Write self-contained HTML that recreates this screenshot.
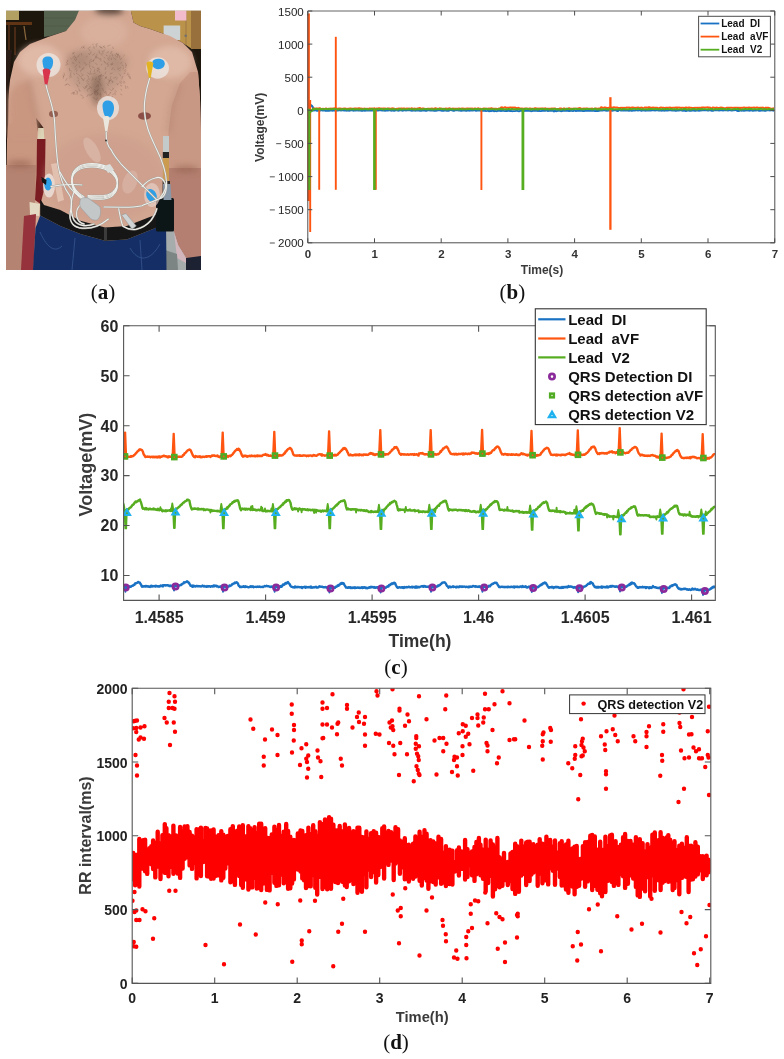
<!DOCTYPE html>
<html><head><meta charset="utf-8"><style>
html,body{margin:0;padding:0;background:#fff;}
body{width:784px;height:1059px;overflow:hidden;}
svg{display:block;will-change:transform;}
</style></head><body>
<svg width="784" height="1059" viewBox="0 0 784 1059">
<clipPath id="pclip"><rect x="6" y="10.5" width="195" height="259.5"/></clipPath>
<filter id="pblur" x="0" y="0" width="1" height="1"><feGaussianBlur stdDeviation="0.5"/></filter>
<filter id="sblur" x="-0.2" y="-0.2" width="1.4" height="1.4"><feGaussianBlur stdDeviation="3"/></filter>
<g clip-path="url(#pclip)"><g filter="url(#pblur)"><rect x="6" y="10.5" width="195" height="259.5" fill="#1f1610"/>
<rect x="6" y="10.5" width="13" height="9.5" fill="#b2a063"/>
<path d="M6 22 H32 V25 H6Z" fill="#5e3419"/>
<path d="M9 25 V60 M15 27 V55" stroke="#4a2a16" stroke-width="2"/>
<path d="M24 26 l2 14" stroke="#8a6a3a" stroke-width="1.2"/>
<path d="M44 10.5 H80 L76 22 L66 31 L50 36 L44 37Z" fill="#56634f"/>
<path d="M44 18 H78 M44 26 H72" stroke="#4a5644" stroke-width="0.6"/>
<path d="M122 10.5 H201 V49 H192 L183 43 L170 36 L150 29 L140 26 L133.5 22.4 L130.8 10.5Z" fill="#bb9248"/>
<path d="M191 10.5 H201 V49 H191Z" fill="#98703a"/>
<path d="M186 10.5 V45" stroke="#9a7844" stroke-width="1"/>
<rect x="175" y="10.5" width="11.4" height="10" fill="#f2bccd"/>
<rect x="163.6" y="25.5" width="16.6" height="14.5" fill="#cdd3d4"/>
<circle cx="185.7" cy="35.8" r="1.3" fill="#707070"/>
<path d="M79 10.5 L75 20 L66 31 L48 37 L30 44 L20 52 L14 62 L10 80 L8 100 L7 140 L6 270 L201 270 L201 139 L200 98.7 L198 72 L192 52 L183 43 L170 36 L150 29 L140 26 L133.5 22.4 L130.8 10.5Z" fill="#d3a792"/>
<path d="M6 50 L12 50 L9 80 L8.5 100 L8 138 L6 140Z" fill="#2a1c14"/>
<path d="M8 125 C16 121 28 120 37.5 123 L37 145 L36.5 175 L35 200 L33.5 215 L30 240 L24 270 L6 270 L7 140Z" fill="#c99680"/>
<path d="M6 165 L36 165 L35 200 L33.5 215 L30 240 L24 270 L6 270Z" fill="#b58371"/>
<path d="M198 72 L200 98.7 L201 139 L201 258 L186 258 L178 245 L172 225 L169 200 L168.4 132.7 L171.7 106 L179.6 83.8 L190 72Z" fill="#c99884"/>
<path d="M169 168 L201 168 L201 258 L186 258 L178 245 L172 225 L169 200Z" fill="#b47f6f"/>
<path d="M36 118 L40 123 L43.6 128 L38 132Z" fill="#3a2018"/>
<path d="M38 128 L43.6 128 L44.5 142 L37.5 142Z" fill="#ddd6b8"/>
<path d="M37 139 L45.5 139 L45 175 L43.5 192 L40.5 204 L35 200 L36.5 175Z" fill="#7a1c22"/>
<path d="M29.5 202 L40 204 L39 216 L30 215Z" fill="#e4d9c2"/>
<path d="M24 216 L36 214 L33.5 270 L21 270Z" fill="#96323a"/>
<path d="M163 136 H169 V152 H163Z" fill="#c4caca"/>
<path d="M162.8 152 H169 V158 H162.8Z" fill="#222"/>
<path d="M162.8 158 H169 V181 H162.8Z" fill="#cc9c50"/>
<path d="M162.5 181 H170 V200 H162.5Z" fill="#2a2420"/>
<path d="M165 225 L172 225 L178 245 L186 258 L190 270 L165 270Z" fill="#a6abab"/>
<path d="M174 232 L178 245 L186 258 L186 263 L177 258Z" fill="#d2b6be"/>
<path d="M165 250 L177 254 L178 270 L165 270Z" fill="#7c8484"/>
<path d="M186 258 L201 256 L201 270 L186 270Z" fill="#1a2030"/></g><g filter="url(#sblur)"><path d="M9 95 C14 84 22 80 29 82 L33 100 L37.5 123 L37 135 L8 135Z" fill="#c99680"/>
<ellipse cx="109" cy="10.5" rx="14" ry="5" fill="#4e3a30" opacity="0.9"/>
<ellipse cx="40" cy="60" rx="22" ry="16" fill="#e6c2b0" opacity="0.7"/>
<ellipse cx="170" cy="62" rx="22" ry="16" fill="#e4c0ae" opacity="0.7"/>
<ellipse cx="104" cy="32" rx="24" ry="16" fill="#dcb4a0" opacity="0.7"/>
<ellipse cx="96" cy="70" rx="28" ry="24" fill="#a08474" opacity="0.38"/>
<ellipse cx="97" cy="90" rx="6" ry="16" fill="#6a4e40" opacity="0.5"/>
<ellipse cx="78" cy="60" rx="12" ry="9" fill="#8a6a5c" opacity="0.3"/>
<ellipse cx="118" cy="62" rx="10" ry="8" fill="#8a6a5c" opacity="0.25"/>
<ellipse cx="104" cy="178" rx="60" ry="44" fill="#c9998a" opacity="0.45"/>
<ellipse cx="20" cy="164" rx="13" ry="3" fill="#8e5c4a" opacity="0.7"/>
<ellipse cx="186" cy="169" rx="13" ry="3" fill="#8e5c4a" opacity="0.6"/>
<path d="M29 80 L33 100 L38 123" stroke="#9a6a58" stroke-width="2" fill="none" opacity="0.6"/>
<path d="M179.6 83.8 L171.7 106 L168.4 132.7" stroke="#9a6a58" stroke-width="2" fill="none" opacity="0.6"/></g><g filter="url(#pblur)"><ellipse cx="53.5" cy="114" rx="4.5" ry="3.2" fill="#8a5444" opacity="0.85"/>
<ellipse cx="144.5" cy="116" rx="6.5" ry="3.8" fill="#7e4038" opacity="0.85"/>
<path d="M93.7 78.9l-2.1 1.3M97.5 80.8l1.7 1.8M106.1 94.3l1.7 1.2M110.5 44.8l-3.1 1.4M107.8 82.6l1.1 1.0M99.0 45.9l1.3 1.5M64.1 72.6l0.5 3.2M98.3 84.3l0.0 2.8M94.0 60.4l-3.2 1.3M120.8 88.7l0.8 1.8M82.2 46.6l-1.4 1.8M121.3 67.5l-2.8 1.5M125.7 73.0l-2.1 0.9M67.1 83.5l-1.3 1.6M68.1 64.0l-2.7 1.3M70.3 58.3l1.3 0.9M117.8 53.7l-0.3 2.4M75.3 90.3l2.2 1.8M70.2 69.8l1.3 1.6M76.7 68.0l-2.1 1.8M76.9 59.0l-1.3 1.7M82.7 46.8l2.2 1.5M79.0 81.7l0.7 2.3M129.1 73.9l-0.6 3.2M74.8 52.2l-2.6 1.7M79.5 54.5l-1.8 2.8M123.8 81.8l0.3 1.7M78.7 88.5l1.7 2.6M103.8 61.4l2.1 2.1M101.2 98.3l-0.6 2.0M93.2 46.0l1.6 1.6M102.1 50.7l1.1 3.1M110.4 80.6l1.2 1.0M95.8 90.2l1.5 3.2M67.3 78.0l-1.8 2.8M113.6 88.4l-2.2 2.5M86.6 87.2l-2.7 1.9M91.2 94.2l-2.0 1.7M105.7 67.2l-0.5 2.7M67.6 84.2l-3.0 1.2M113.0 67.6l-1.4 2.3M92.8 97.3l2.5 1.6M95.7 57.2l-1.1 2.2M83.1 86.8l1.2 1.4M125.4 85.6l0.5 3.3M84.9 85.9l1.6 1.8M123.6 67.4l-0.4 2.1M71.5 74.8l-2.3 2.2M81.4 53.2l0.2 2.0M77.0 69.3l-0.7 2.4M84.1 97.4l-2.2 1.0M111.6 79.7l1.4 2.8M93.8 43.6l-1.4 1.4M106.0 71.5l-0.9 2.7M109.9 55.2l0.1 1.9M112.0 53.8l1.1 1.9M110.8 76.3l-0.8 2.9M89.5 94.3l-1.4 0.9M71.1 71.9l-1.0 3.2M88.4 79.5l-2.4 1.9M128.1 72.6l-0.7 1.8M112.5 96.0l-1.0 2.8M99.6 94.2l1.4 3.0M121.9 65.0l2.0 1.3M100.5 92.7l0.0 1.6M118.0 53.4l1.2 2.8M98.2 89.8l-2.1 2.0M128.2 74.5l-1.5 0.8M77.5 76.8l1.4 2.6M106.7 76.5l-1.9 1.8M83.8 67.2l-2.4 2.2M129.8 76.6l-0.3 1.9M99.5 75.2l-0.4 1.5M129.9 76.1l0.7 3.0M101.4 74.4l-0.7 1.5M99.7 69.3l-3.0 1.5M80.8 73.2l1.8 1.5M95.4 62.9l1.8 2.0M75.6 57.0l-0.9 1.9M86.9 82.9l2.4 1.7M70.6 75.7l1.1 1.6M99.1 70.8l0.7 2.2M99.1 52.5l1.8 2.1M106.7 77.0l-2.0 1.8M122.0 57.4l-1.7 2.6M125.2 62.8l1.4 3.0M78.8 90.0l0.9 1.4M120.3 69.8l-1.1 1.3M90.2 87.2l1.7 0.8M97.4 92.0l-0.0 2.9M100.6 76.0l-0.3 1.8M74.9 55.5l-2.5 2.4M94.3 92.5l1.0 2.2M98.1 70.4l-0.4 1.5M111.1 97.7l1.7 1.7M113.8 68.7l1.2 1.4M97.9 43.0l-2.5 1.8M111.3 98.8l-0.7 2.2M104.0 75.3l-2.8 1.2M114.1 93.3l-1.6 1.7M110.6 92.6l-1.4 1.9M112.6 46.7l0.9 2.3M106.7 83.2l2.0 2.7M108.6 64.3l-1.0 2.4M99.3 67.7l-2.6 1.0M111.1 92.3l-1.4 0.6M105.1 90.8l1.3 1.9M88.3 48.5l1.9 2.7M100.5 75.5l-2.4 1.1M103.8 92.1l3.0 1.5M73.2 73.1l1.8 1.7M104.8 45.9l-2.1 1.1M98.9 81.5l0.7 2.0M107.9 79.0l1.5 2.5M73.0 91.8l0.9 3.2M92.1 73.5l-1.8 0.8M112.6 72.9l-2.9 1.3M104.3 49.6l-0.7 2.3M99.0 50.2l0.4 2.8M93.9 59.3l-0.5 2.3M116.5 77.0l-3.2 1.3M113.4 57.7l2.6 2.0M116.9 83.2l0.7 1.9M110.0 79.3l-0.6 2.7M114.7 54.5l2.0 2.8M81.0 70.1l-0.5 1.6M99.9 46.8l2.4 1.6M100.5 83.7l0.7 2.3M76.7 64.7l-1.8 2.6M118.6 83.2l-1.2 1.5M91.7 59.0l-1.5 1.6M84.8 78.2l-1.9 2.8M91.9 66.4l2.7 1.8M101.5 74.0l-0.9 1.9M76.9 85.7l1.8 1.1M112.7 87.8l0.9 1.5M87.0 89.9l0.5 1.6M111.6 79.6l-2.9 1.8M125.9 70.9l-1.4 1.6M84.2 68.4l-2.8 1.7M79.4 65.9l0.7 2.1M89.7 67.6l1.8 2.0M117.8 77.7l-1.9 1.8M74.4 92.1l-1.6 1.3M63.6 76.0l-0.3 2.6M100.3 94.0l1.4 0.9M67.9 83.9l2.3 2.0M107.4 58.2l1.9 2.4M98.5 92.5l0.5 2.1M96.6 77.5l-1.5 2.5M126.0 69.1l-2.0 2.0M98.7 88.9l-1.6 1.8M91.4 51.6l-1.9 2.9M88.3 53.1l1.5 1.8M66.1 62.4l2.2 1.7M116.3 53.8l2.1 1.2M74.9 56.3l1.7 2.4M103.6 56.8l1.4 1.5M74.1 92.0l1.1 2.3M119.2 73.6l1.8 2.7M126.0 64.6l-0.4 3.4M95.8 56.6l3.0 1.6M118.1 67.4l-0.2 2.5M108.0 57.7l2.3 0.9M88.0 94.6l-1.3 2.4M73.0 52.4l0.8 1.8M122.8 76.1l-1.1 3.3M80.7 77.3l2.3 2.0M67.8 59.8l-0.8 1.5M95.6 72.9l-2.4 1.2M122.0 62.0l-1.5 1.8M119.8 55.8l-0.3 2.5M83.8 62.5l1.8 1.1M94.7 89.2l1.0 2.7M69.4 68.0l0.3 3.4M120.1 85.2l2.1 0.9M111.7 57.7l-0.4 2.4M118.0 55.6l-0.6 2.0M88.3 77.6l1.0 1.9M89.5 86.0l1.0 1.6M113.2 63.7l-2.3 1.3M112.7 63.9l-1.2 1.2M109.4 88.7l1.6 1.7M120.6 81.1l1.6 1.1M90.5 46.8l-2.0 1.3M97.8 84.7l-1.9 2.5M89.0 63.9l0.3 1.5M90.0 88.2l-2.8 1.2M108.2 82.2l2.0 0.9M86.0 84.9l1.8 1.3M97.7 94.0l-1.9 1.9M73.1 92.6l-2.1 1.5M86.7 75.0l2.2 1.9M112.1 97.1l2.3 2.5M105.9 55.1l1.7 1.1M102.4 88.0l1.3 3.1M87.3 72.6l2.7 2.1M100.0 79.0l-0.3 2.0M119.2 81.7l2.5 1.9M78.9 79.9l-1.3 1.3M100.3 47.0l1.7 0.8M108.1 62.3l-1.2 2.7M88.7 81.1l-1.0 1.1M76.0 72.9l1.7 1.5M101.9 53.5l-0.1 2.0M101.8 63.9l-0.5 1.5M109.0 51.6l-2.4 1.2M94.9 69.2l-0.8 2.8M115.1 91.6l0.1 3.5M90.6 70.6l-0.5 3.3M98.8 76.7l0.5 3.3M84.4 45.6l-1.7 2.8M113.2 81.4l-1.2 1.7M103.5 46.6l1.9 1.5M97.2 68.2l2.5 1.4M98.8 57.8l1.0 2.0M108.6 99.2l0.6 3.1M77.5 91.3l-0.5 3.3M70.7 77.5l-1.3 0.7M79.1 61.8l0.7 1.5M89.8 65.5l-0.3 1.6M83.5 74.9l-3.0 1.7M95.1 55.6l1.6 2.9M124.8 54.9l-1.6 1.5M95.1 53.3l-2.8 2.1M76.1 83.7l2.2 2.4M112.8 62.7l-2.7 1.9M111.9 50.9l-1.5 3.0M93.2 47.2l1.3 1.7M111.7 55.0l1.4 1.4M108.5 94.2l0.9 2.7M123.9 80.9l1.3 1.7M126.9 86.0l1.4 2.4M92.8 76.9l-0.1 1.6M104.0 60.8l1.8 2.6M68.1 60.8l-1.1 1.6M81.5 78.2l2.3 2.4M94.3 91.5l0.9 3.2M97.0 53.9l-0.4 2.8M87.2 85.4l-1.6 2.0M97.4 97.8l-1.1 2.3M116.6 52.9l-0.5 1.9M92.8 93.0l-2.0 2.4M78.5 74.3l1.7 2.1M96.9 44.3l-0.7 2.9M102.1 99.6l1.3 1.3M63.2 74.7l0.4 2.4M80.4 94.7l2.8 1.7M101.8 77.9l-1.3 1.5M72.2 62.5l1.9 1.0M105.5 76.7l1.4 2.3M74.0 58.8l2.1 2.0M120.2 93.9l2.0 1.1M87.5 56.3l-1.4 0.7M96.3 92.2l-1.6 0.7M93.9 91.2l1.8 0.9M89.5 61.7l0.3 1.6M115.4 90.4l1.2 1.6M100.6 58.0l0.3 3.4M87.5 64.2l-2.5 1.1" stroke="#5a4034" stroke-width="0.6" opacity="0.35" fill="none"/>
<path d="M33 270 L35.5 228 L40.2 215.4 L60.3 226 L80.4 234 L105 240.8 L126.8 239.5 L153.6 228.7 L166 222 L166.5 270Z" fill="#132f66"/>
<path d="M40 232 C48 250 56 252 62 246 M130 248 C138 262 150 262 160 244 M75 238 L72 270 M140 240 L142 270" fill="none" stroke="#4a64a0" stroke-width="0.7" opacity="0.8"/>
<path d="M40.2 199 L44 205 L60.3 210 L80.4 220.7 L105 227.4 L126.8 226 L153.6 215.4 L160 212 L160 226 L153.6 228.7 L126.8 239.5 L105 240.8 L80.4 234 L60.3 226 L40.2 215.4Z" fill="#151515"/>
<rect x="104" y="228" width="3" height="12" fill="#3a3a3a"/>
<rect x="156" y="198" width="18" height="33.5" rx="1.5" fill="#101316"/>
<path d="M51 164 L57 163 L64 200 L58 202Z" fill="#e6c8b8" opacity="0.8"/>
<ellipse cx="92" cy="150" rx="6" ry="14" transform="rotate(-30 92 150)" fill="#e2c4b6" opacity="0.5"/>
<ellipse cx="152" cy="195" rx="8" ry="12" fill="#e6cfc6" opacity="0.7"/>
<ellipse cx="130" cy="182" rx="7" ry="12" transform="rotate(20 130 182)" fill="#e0c6bc" opacity="0.4"/>
<ellipse cx="48.5" cy="65" rx="12" ry="12" fill="#ece6e2" opacity="0.8"/>
<ellipse cx="157.6" cy="68" rx="11.4" ry="10.7" fill="#ece6e2" opacity="0.8"/>
<ellipse cx="108" cy="108" rx="11" ry="12" fill="#ece6e2" opacity="0.8"/>
<ellipse cx="49" cy="185.5" rx="6" ry="12" fill="#ece0da" opacity="0.85"/>
<path d="M42.5 62 C42 57 46 56 49 56.5 C53 57 54 61 52.5 66 C51 70 48 72 46 71 C43.5 69 43 66 42.5 62Z" fill="#2e9fe6"/>
<path d="M152.5 61.5 C154 58 160 58 163 60 C166 62.5 165 67 161.5 68.5 C158 70 154 69 152.5 66Z" fill="#2e9fe6"/>
<path d="M102.5 106 C102.5 101 106 100 108.5 100.5 C112 101 114.5 104 114 109 C113.5 114 111 118 108 118.5 C105 118 103 113 102.5 106Z" fill="#2e9fe6"/>
<ellipse cx="48" cy="184" rx="3.8" ry="6.5" fill="#2e9fe6"/>
<ellipse cx="151.5" cy="195.5" rx="5" ry="6.8" transform="rotate(-25 151.5 195.5)" fill="#2e9fe6"/>
<path d="M42.6 70 C45 68 49 68 50.5 71 L47.2 85.5 L45 85.5Z" fill="#d8344e"/>
<path d="M146.5 63 C148 61 152 61 153.3 63.5 L150.6 78.5 L148.8 78.5Z" fill="#e2b424"/>
<path d="M103 117.5 C105 115.5 108.5 115.5 109.8 117.5 L107.2 132 L105.4 132Z" fill="#ebe7df"/>
<path d="M41.5 177 L46.5 180 L46 185 L42 182Z" fill="#121212"/>
<path d="M163 184 L170.5 184 L171.5 200 L163.5 200Z" fill="#8898a8"/>
<g fill="none" stroke-linecap="round">
<path d="M46 85 C48 95 53 105 54.5 120 C55.5 140 56 150 58 165 C60 178 64 188 70 196 C72 200 72 206 70.3 212 C69 220 72 226 79 227.7 C86 229 92 228 97 226 C102 224 106 221 108.4 219" stroke="#a2a09a" stroke-width="1.9"/>
<path d="M149.6 78.5 C146 90 144 100 144.3 110 C145 125 150 135 156 148 C162 160 166 170 166.5 182 C167 192 164 198 159.7 198.4 C152 202 146 204 142 205.7 C134 207 128 207.5 123 207.2 C116 207 110 207 104 207" stroke="#a2a09a" stroke-width="1.9"/>
<path d="M106.2 132 C106 138 107 146 111.3 150 C114 156 118 160 121.6 164.7 C127 170 132 175 136.3 179.3 C141 184 144 187 148 191 C151 194 154 197 156.8 199.9" stroke="#a2a09a" stroke-width="1.9"/>
<path d="M51 186.5 C58 185 66 184.5 72 184.5 C76 184.5 79 184.5 82 185" stroke="#a2a09a" stroke-width="1.9"/>
<path d="M118.7 208.7 C120 216 121 222 123 226.3 C127 229 132 230 136.3 229.2 C142 228 147 225 151 220.4 C154 216 156 212 156.8 208.7" stroke="#a2a09a" stroke-width="1.9"/>
<path d="M142 186.7 C146 182 150 179 155.3 177.9 C158 177 161 177.5 162.7 179.3 C165 182 166 185 165.6 188 C164 193 162 196 159.7 198.4" stroke="#a2a09a" stroke-width="1.9"/>
<path d="M60 172 C64 180 68 186 74 192 C80 197 86 200 92 204" stroke="#a2a09a" stroke-width="1.9"/>
<path d="M84 200.0 C76 196.0 71 188.0 72 180.0 C73 172.0 80 167.0 92 167.0 C104 167.0 114 172.0 117 181.0 C119 190.0 114 198.0 104 199.0 C97 199.5 92 199.0 88 199.0" stroke="#a2a09a" stroke-width="1.9"/>
<path d="M84 198.8 C76 194.8 71 186.8 72 178.8 C73 170.8 80 165.8 92 165.8 C104 165.8 114 170.8 117 179.8 C119 188.8 114 196.8 104 197.8 C97 198.3 92 197.8 88 197.8" stroke="#a2a09a" stroke-width="1.9"/>
<path d="M84 197.7 C76 193.7 71 185.7 72 177.7 C73 169.7 80 164.7 92 164.7 C104 164.7 114 169.7 117 178.7 C119 187.7 114 195.7 104 196.7 C97 197.2 92 196.7 88 196.7" stroke="#a2a09a" stroke-width="1.9"/>
<path d="M84 196.6 C76 192.6 71 184.6 72 176.6 C73 168.6 80 163.6 92 163.6 C104 163.6 114 168.6 117 177.6 C119 186.6 114 194.6 104 195.6 C97 196.1 92 195.6 88 195.6" stroke="#a2a09a" stroke-width="1.9"/>
<path d="M75 190 C70 200 70 212 74 220 C78 226 86 227 94 224" stroke="#a2a09a" stroke-width="1.9"/>
<path d="M80 205 C74 212 76 222 84 224" stroke="#a2a09a" stroke-width="1.9"/>
<path d="M46 85 C48 95 53 105 54.5 120 C55.5 140 56 150 58 165 C60 178 64 188 70 196 C72 200 72 206 70.3 212 C69 220 72 226 79 227.7 C86 229 92 228 97 226 C102 224 106 221 108.4 219" stroke="#efefeb" stroke-width="1.05"/>
<path d="M149.6 78.5 C146 90 144 100 144.3 110 C145 125 150 135 156 148 C162 160 166 170 166.5 182 C167 192 164 198 159.7 198.4 C152 202 146 204 142 205.7 C134 207 128 207.5 123 207.2 C116 207 110 207 104 207" stroke="#efefeb" stroke-width="1.05"/>
<path d="M106.2 132 C106 138 107 146 111.3 150 C114 156 118 160 121.6 164.7 C127 170 132 175 136.3 179.3 C141 184 144 187 148 191 C151 194 154 197 156.8 199.9" stroke="#efefeb" stroke-width="1.05"/>
<path d="M51 186.5 C58 185 66 184.5 72 184.5 C76 184.5 79 184.5 82 185" stroke="#efefeb" stroke-width="1.05"/>
<path d="M118.7 208.7 C120 216 121 222 123 226.3 C127 229 132 230 136.3 229.2 C142 228 147 225 151 220.4 C154 216 156 212 156.8 208.7" stroke="#efefeb" stroke-width="1.05"/>
<path d="M142 186.7 C146 182 150 179 155.3 177.9 C158 177 161 177.5 162.7 179.3 C165 182 166 185 165.6 188 C164 193 162 196 159.7 198.4" stroke="#efefeb" stroke-width="1.05"/>
<path d="M60 172 C64 180 68 186 74 192 C80 197 86 200 92 204" stroke="#efefeb" stroke-width="1.05"/>
<path d="M84 200.0 C76 196.0 71 188.0 72 180.0 C73 172.0 80 167.0 92 167.0 C104 167.0 114 172.0 117 181.0 C119 190.0 114 198.0 104 199.0 C97 199.5 92 199.0 88 199.0" stroke="#efefeb" stroke-width="1.05"/>
<path d="M84 198.8 C76 194.8 71 186.8 72 178.8 C73 170.8 80 165.8 92 165.8 C104 165.8 114 170.8 117 179.8 C119 188.8 114 196.8 104 197.8 C97 198.3 92 197.8 88 197.8" stroke="#efefeb" stroke-width="1.05"/>
<path d="M84 197.7 C76 193.7 71 185.7 72 177.7 C73 169.7 80 164.7 92 164.7 C104 164.7 114 169.7 117 178.7 C119 187.7 114 195.7 104 196.7 C97 197.2 92 196.7 88 196.7" stroke="#efefeb" stroke-width="1.05"/>
<path d="M84 196.6 C76 192.6 71 184.6 72 176.6 C73 168.6 80 163.6 92 163.6 C104 163.6 114 168.6 117 177.6 C119 186.6 114 194.6 104 195.6 C97 196.1 92 195.6 88 195.6" stroke="#efefeb" stroke-width="1.05"/>
<path d="M75 190 C70 200 70 212 74 220 C78 226 86 227 94 224" stroke="#efefeb" stroke-width="1.05"/>
<path d="M80 205 C74 212 76 222 84 224" stroke="#efefeb" stroke-width="1.05"/>
</g>
<path d="M80 201 C80 198 84 197 88 198 L99 206 C101 208 101 212 100 216 L98 219.5 C96 221 92 220 90 218 L81 208 C79.5 206 79.5 203 80 201Z" fill="#c3c7c8" stroke="#9a9ea0" stroke-width="0.6"/>
<path d="M121.6 215 L126 213.5 L136.3 226 L132 229.2 Z" fill="#d0d3d4" stroke="#8a8e90" stroke-width="0.5"/>
<path d="M104 166 L110 164 L114 170 L108 173Z" fill="#dcdedc"/>
<circle cx="106" cy="140.4" r="1" fill="#3a3a3a"/></g></g>
<polyline points="312.0,110.7 313.0,110.6 314.0,110.5 315.0,110.4 316.0,110.3 317.0,110.8 318.0,110.7 319.0,110.3 320.0,110.7 321.0,110.3 322.0,110.2 323.0,110.8 324.0,110.2 325.0,110.8 326.0,110.5 327.0,110.7 328.0,110.6 329.0,110.8 330.0,110.6 331.0,110.6 332.0,110.6 333.0,110.7 334.0,110.4 335.0,110.7 336.0,110.8 337.0,110.5 338.0,110.6 339.0,110.4 340.0,110.4 341.0,110.6 342.0,110.4 343.0,110.3 344.0,110.5 345.0,110.5 346.0,110.6 347.0,110.7 348.0,110.1 349.0,110.8 350.0,110.5 351.0,110.3 352.0,110.4 353.0,110.6 354.0,110.7 355.0,110.4 356.0,110.5 357.0,110.1 358.0,110.5 359.0,110.5 360.0,110.4 361.0,110.7 362.0,110.9 363.0,110.7 364.0,110.3 365.0,110.8 366.0,110.4 367.0,110.5 368.0,110.4 369.0,110.6 370.0,110.6 371.0,110.5 372.0,110.5 373.0,110.5 374.0,110.4 375.0,110.7 376.0,110.4 377.0,110.5 378.0,110.5 379.0,110.3 380.0,110.4 381.0,110.2 382.0,110.6 383.0,110.6 384.0,110.4 385.0,110.8 386.0,110.3 387.0,110.6 388.0,110.6 389.0,110.4 390.0,110.4 391.0,110.7 392.0,110.5 393.0,110.6 394.0,110.8 395.0,110.5 396.0,110.1 397.0,110.3 398.0,110.7 399.0,110.5 400.0,110.3 401.0,110.1 402.0,110.6 403.0,110.8 404.0,110.2 405.0,110.0 406.0,110.6 407.0,110.4 408.0,110.4 409.0,110.4 410.0,110.3 411.0,110.6 412.0,110.7 413.0,110.6 414.0,110.4 415.0,110.7 416.0,110.5 417.0,110.6 418.0,110.3 419.0,110.6 420.0,110.7 421.0,110.8 422.0,110.5 423.0,110.6 424.0,110.4 425.0,110.7 426.0,110.7 427.0,110.7 428.0,110.4 429.0,110.2 430.0,110.5 431.0,110.5 432.0,110.3 433.0,110.6 434.0,110.7 435.0,110.6 436.0,110.7 437.0,110.6 438.0,110.3 439.0,110.4 440.0,110.4 441.0,110.6 442.0,110.7 443.0,110.5 444.0,110.7 445.0,110.3 446.0,110.5 447.0,110.8 448.0,110.6 449.0,110.7 450.0,110.1 451.0,110.1 452.0,110.3 453.0,110.7 454.0,110.9 455.0,110.4 456.0,110.3 457.0,110.3 458.0,110.3 459.0,110.6 460.0,110.4 461.0,110.9 462.0,110.7 463.0,110.4 464.0,110.6 465.0,110.5 466.0,110.7 467.0,110.7 468.0,110.4 469.0,110.7 470.0,110.6 471.0,110.5 472.0,110.6 473.0,110.6 474.0,110.4 475.0,110.4 476.0,110.8 477.0,110.5 478.0,110.4 479.0,110.6 480.0,110.2 481.0,110.9 482.0,110.6 483.0,110.8 484.0,110.5 485.0,110.7 486.0,111.1 487.0,110.9 488.0,110.6 489.0,111.3 490.0,110.8 491.0,111.2 492.0,110.8 493.0,110.6 494.0,111.3 495.0,110.8 496.0,111.1 497.0,111.2 498.0,110.6 499.0,110.9 500.0,110.8 501.0,111.0 502.0,110.9 503.0,110.6 504.0,110.9 505.0,111.1 506.0,110.8 507.0,111.0 508.0,110.8 509.0,110.9 510.0,111.0 511.0,110.9 512.0,111.2 513.0,111.1 514.0,111.1 515.0,111.1 516.0,110.9 517.0,110.7 518.0,111.1 519.0,111.3 520.0,110.9 521.0,110.8 522.0,110.9 523.0,111.2 524.0,111.0 525.0,110.7 526.0,110.9 527.0,110.7 528.0,110.9 529.0,110.7 530.0,110.7 531.0,111.2 532.0,111.1 533.0,110.6 534.0,110.7 535.0,110.8 536.0,110.8 537.0,110.6 538.0,111.1 539.0,110.6 540.0,111.1 541.0,111.1 542.0,110.8 543.0,110.8 544.0,110.9 545.0,110.9 546.0,110.5 547.0,110.6 548.0,111.0 549.0,110.9 550.0,110.8 551.0,110.7 552.0,110.8 553.0,110.7 554.0,111.5 555.0,110.6 556.0,111.2 557.0,111.0 558.0,110.9 559.0,110.9 560.0,110.8 561.0,111.2 562.0,111.0 563.0,110.9 564.0,110.9 565.0,110.9 566.0,110.7 567.0,110.8 568.0,110.8 569.0,111.0 570.0,111.0 571.0,110.5 572.0,110.9 573.0,111.1 574.0,110.6 575.0,110.6 576.0,111.1 577.0,110.9 578.0,110.8 579.0,110.6 580.0,110.9 581.0,110.8 582.0,110.9 583.0,111.0 584.0,111.1 585.0,110.8 586.0,110.8 587.0,110.9 588.0,110.9 589.0,110.9 590.0,110.8 591.0,110.9 592.0,110.8 593.0,110.8 594.0,110.9 595.0,111.1 596.0,110.8 597.0,111.0 598.0,111.0 599.0,110.9 600.0,110.6 601.0,110.4 602.0,110.6 603.0,110.6 604.0,109.8 605.0,110.6 606.0,110.6 607.0,110.9 608.0,110.3 609.0,110.5 610.0,110.6 611.0,110.3 612.0,110.8 613.0,110.6 614.0,110.3 615.0,110.2 616.0,110.4 617.0,111.0 618.0,111.0 619.0,110.0 620.0,110.1 621.0,110.6 622.0,110.5 623.0,110.4 624.0,110.6 625.0,110.5 626.0,110.6 627.0,110.6 628.0,110.3 629.0,110.8 630.0,110.4 631.0,110.7 632.0,110.7 633.0,110.5 634.0,110.5 635.0,110.5 636.0,110.1 637.0,110.4 638.0,110.6 639.0,110.2 640.0,110.2 641.0,110.7 642.0,110.7 643.0,110.2 644.0,110.6 645.0,110.5 646.0,110.7 647.0,110.4 648.0,110.5 649.0,110.3 650.0,110.5 651.0,110.5 652.0,110.4 653.0,110.4 654.0,110.3 655.0,110.6 656.0,110.3 657.0,110.2 658.0,110.3 659.0,110.7 660.0,110.4 661.0,110.6 662.0,110.7 663.0,110.4 664.0,110.7 665.0,110.6 666.0,110.5 667.0,110.3 668.0,110.5 669.0,110.2 670.0,110.4 671.0,110.4 672.0,110.6 673.0,110.6 674.0,110.4 675.0,110.7 676.0,110.8 677.0,110.5 678.0,110.3 679.0,110.6 680.0,110.0 681.0,110.4 682.0,110.6 683.0,110.9 684.0,110.3 685.0,110.8 686.0,111.0 687.0,110.9 688.0,110.0 689.0,110.7 690.0,110.5 691.0,110.7 692.0,110.5 693.0,110.4 694.0,110.5 695.0,110.8 696.0,110.7 697.0,110.4 698.0,110.6 699.0,110.7 700.0,110.6 701.0,110.5 702.0,110.4 703.0,110.3 704.0,110.4 705.0,110.4 706.0,110.2 707.0,110.2 708.0,110.7 709.0,110.3 710.0,110.2 711.0,110.5 712.0,110.8 713.0,110.8 714.0,110.4 715.0,110.3 716.0,110.4 717.0,110.3 718.0,110.4 719.0,110.6 720.0,110.3 721.0,110.3 722.0,110.4 723.0,110.5 724.0,110.3 725.0,110.3 726.0,110.3 727.0,110.3 728.0,110.6 729.0,110.4 730.0,109.8 731.0,110.6 732.0,110.5 733.0,110.3 734.0,110.4 735.0,109.8 736.0,110.1 737.0,110.8 738.0,111.0 739.0,111.0 740.0,110.3 741.0,110.5 742.0,110.7 743.0,110.2 744.0,110.9 745.0,110.3 746.0,110.6 747.0,110.2 748.0,110.6 749.0,110.5 750.0,110.7 751.0,110.2 752.0,110.5 753.0,110.9 754.0,110.2 755.0,110.6 756.0,110.6 757.0,110.4 758.0,110.4 759.0,110.8 760.0,110.8 761.0,110.6 762.0,110.6 763.0,110.3 764.0,110.5 765.0,110.9 766.0,110.7 767.0,110.2 768.0,110.0 769.0,110.4 770.0,110.5 771.0,110.4 772.0,110.4 773.0,110.6 774.0,110.7" fill="none" stroke="#1a72c4" stroke-width="1.9" stroke-linejoin="round"/>
<path d="M308.5 110 L310 104.5 L312 106 L314 109 L318 110" fill="none" stroke="#1a72c4" stroke-width="2.2"/>
<polyline points="312.0,108.6 313.0,108.9 314.0,108.3 315.0,108.7 316.0,108.7 317.0,108.3 318.0,108.9 319.0,108.2 320.0,108.3 321.0,109.2 322.0,108.9 323.0,108.7 324.0,108.9 325.0,108.9 326.0,108.4 327.0,108.7 328.0,108.9 329.0,108.6 330.0,108.6 331.0,108.5 332.0,108.8 333.0,108.5 334.0,108.5 335.0,108.3 336.0,108.4 337.0,108.6 338.0,108.7 339.0,108.5 340.0,108.4 341.0,108.7 342.0,108.7 343.0,108.9 344.0,108.5 345.0,108.5 346.0,108.7 347.0,108.9 348.0,108.6 349.0,108.6 350.0,108.4 351.0,108.5 352.0,108.8 353.0,108.8 354.0,108.8 355.0,108.2 356.0,108.8 357.0,108.4 358.0,108.7 359.0,108.1 360.0,108.6 361.0,108.4 362.0,108.9 363.0,108.6 364.0,108.9 365.0,108.5 366.0,109.0 367.0,108.5 368.0,109.0 369.0,108.5 370.0,108.4 371.0,108.8 372.0,108.5 373.0,108.6 374.0,108.3 375.0,108.5 376.0,108.6 377.0,108.4 378.0,108.7 379.0,108.1 380.0,108.8 381.0,108.5 382.0,108.9 383.0,108.5 384.0,108.5 385.0,108.5 386.0,108.7 387.0,108.7 388.0,108.5 389.0,108.4 390.0,108.7 391.0,108.8 392.0,108.2 393.0,108.4 394.0,108.5 395.0,109.0 396.0,108.9 397.0,108.8 398.0,108.7 399.0,108.4 400.0,108.9 401.0,108.5 402.0,108.4 403.0,109.0 404.0,108.3 405.0,108.9 406.0,108.6 407.0,108.4 408.0,108.6 409.0,108.4 410.0,108.6 411.0,108.5 412.0,108.3 413.0,109.2 414.0,108.5 415.0,108.8 416.0,108.6 417.0,108.8 418.0,108.3 419.0,108.4 420.0,107.9 421.0,108.8 422.0,108.7 423.0,108.3 424.0,108.8 425.0,108.7 426.0,109.3 427.0,108.7 428.0,108.8 429.0,108.7 430.0,108.8 431.0,108.6 432.0,108.5 433.0,108.8 434.0,108.9 435.0,108.3 436.0,108.3 437.0,108.6 438.0,109.0 439.0,108.6 440.0,108.2 441.0,108.8 442.0,108.8 443.0,109.0 444.0,108.6 445.0,109.0 446.0,108.4 447.0,108.8 448.0,108.6 449.0,108.3 450.0,108.5 451.0,108.9 452.0,108.8 453.0,108.5 454.0,108.8 455.0,108.8 456.0,108.8 457.0,108.7 458.0,108.7 459.0,108.4 460.0,108.6 461.0,108.6 462.0,108.4 463.0,108.5 464.0,108.6 465.0,108.6 466.0,108.8 467.0,108.4 468.0,108.5 469.0,108.7 470.0,108.5 471.0,108.7 472.0,108.5 473.0,108.9 474.0,108.6 475.0,108.3 476.0,108.8 477.0,109.0 478.0,108.2 479.0,108.6 480.0,108.6 481.0,108.8 482.0,108.9 483.0,108.6 484.0,108.3 485.0,108.7 486.0,108.8 487.0,108.7 488.0,108.6 489.0,108.4 490.0,109.1 491.0,108.3 492.0,108.3 493.0,108.8 494.0,108.7 495.0,108.8 496.0,108.7 497.0,109.0 498.0,108.9 499.0,108.5 500.0,108.8 501.0,107.4 502.0,107.3 503.0,108.0 504.0,107.6 505.0,107.2 506.0,107.7 507.0,107.6 508.0,107.8 509.0,107.7 510.0,107.5 511.0,107.5 512.0,107.9 513.0,107.5 514.0,107.7 515.0,107.5 516.0,107.8 517.0,108.1 518.0,107.8 519.0,107.9 520.0,108.7 521.0,108.4 522.0,108.5 523.0,108.6 524.0,108.7 525.0,108.5 526.0,108.7 527.0,108.4 528.0,108.6 529.0,108.6 530.0,108.3 531.0,108.8 532.0,108.6 533.0,108.6 534.0,108.6 535.0,108.1 536.0,108.3 537.0,108.4 538.0,108.8 539.0,108.5 540.0,108.7 541.0,108.4 542.0,108.4 543.0,108.5 544.0,108.8 545.0,108.2 546.0,108.6 547.0,108.7 548.0,108.6 549.0,108.6 550.0,108.8 551.0,108.7 552.0,108.4 553.0,108.7 554.0,108.4 555.0,108.5 556.0,108.9 557.0,109.1 558.0,108.9 559.0,108.7 560.0,108.4 561.0,108.4 562.0,109.0 563.0,108.7 564.0,108.3 565.0,109.0 566.0,108.7 567.0,108.9 568.0,108.7 569.0,108.1 570.0,108.4 571.0,108.6 572.0,108.6 573.0,108.9 574.0,108.5 575.0,108.6 576.0,108.6 577.0,108.6 578.0,108.4 579.0,108.3 580.0,108.0 581.0,108.7 582.0,108.6 583.0,108.6 584.0,108.4 585.0,108.6 586.0,108.4 587.0,108.4 588.0,108.7 589.0,108.7 590.0,108.7 591.0,108.6 592.0,108.5 593.0,108.9 594.0,108.9 595.0,108.5 596.0,108.4 597.0,108.7 598.0,108.7 599.0,108.4 600.0,109.1 601.0,107.2 602.0,107.5 603.0,107.8 604.0,107.9 605.0,107.3 606.0,107.6 607.0,108.0 608.0,108.0 609.0,107.6 610.0,107.7 611.0,107.5 612.0,107.8 613.0,107.5 614.0,107.3 615.0,107.4 616.0,107.7 617.0,107.4 618.0,107.9 619.0,108.0 620.0,107.9 621.0,107.8 622.0,108.0 623.0,107.8 624.0,107.9 625.0,107.8 626.0,107.9 627.0,107.5 628.0,107.6 629.0,107.5 630.0,107.9 631.0,107.8 632.0,107.5 633.0,107.5 634.0,107.6 635.0,107.9 636.0,107.7 637.0,107.6 638.0,107.5 639.0,107.7 640.0,108.1 641.0,107.5 642.0,107.6 643.0,108.1 644.0,107.9 645.0,107.4 646.0,107.9 647.0,107.4 648.0,107.8 649.0,107.1 650.0,107.5 651.0,107.9 652.0,107.6 653.0,107.5 654.0,107.7 655.0,107.7 656.0,107.6 657.0,107.6 658.0,108.1 659.0,108.0 660.0,107.8 661.0,107.4 662.0,107.6 663.0,107.6 664.0,107.8 665.0,108.1 666.0,107.6 667.0,107.7 668.0,107.6 669.0,107.7 670.0,107.5 671.0,107.8 672.0,108.0 673.0,107.6 674.0,107.6 675.0,107.7 676.0,107.4 677.0,108.1 678.0,107.4 679.0,107.6 680.0,107.5 681.0,108.0 682.0,107.6 683.0,107.6 684.0,108.1 685.0,107.7 686.0,107.5 687.0,107.7 688.0,107.7 689.0,107.5 690.0,107.7 691.0,107.7 692.0,107.9 693.0,107.9 694.0,107.9 695.0,107.7 696.0,107.9 697.0,107.7 698.0,108.0 699.0,107.8 700.0,107.6 701.0,108.0 702.0,107.4 703.0,107.5 704.0,107.5 705.0,107.7 706.0,107.4 707.0,107.4 708.0,107.3 709.0,107.7 710.0,107.5 711.0,108.2 712.0,107.9 713.0,107.4 714.0,108.0 715.0,107.7 716.0,107.9 717.0,107.5 718.0,108.0 719.0,107.9 720.0,107.6 721.0,107.5 722.0,107.6 723.0,107.8 724.0,108.2 725.0,108.1 726.0,108.0 727.0,107.7 728.0,107.6 729.0,107.8 730.0,107.6 731.0,107.6 732.0,107.7 733.0,107.9 734.0,107.7 735.0,107.8 736.0,107.6 737.0,107.7 738.0,107.6 739.0,108.0 740.0,107.8 741.0,108.0 742.0,107.7 743.0,107.9 744.0,107.4 745.0,107.6 746.0,107.7 747.0,107.6 748.0,107.7 749.0,107.5 750.0,107.7 751.0,107.6 752.0,107.7 753.0,107.6 754.0,107.5 755.0,107.6 756.0,107.7 757.0,107.4 758.0,107.7 759.0,108.0 760.0,107.7 761.0,107.8 762.0,107.8 763.0,107.5 764.0,108.0 765.0,108.3 766.0,107.5 767.0,108.2 768.0,107.5 769.0,108.0 770.0,108.2 771.0,108.9 772.0,108.6 773.0,108.3 774.0,108.4" fill="none" stroke="#ff5511" stroke-width="1.9" stroke-linejoin="round"/>
<line x1="308.6" y1="13.6" x2="308.6" y2="201" stroke="#ff5511" stroke-width="1.9"/>
<line x1="310.2" y1="100.0" x2="310.2" y2="232" stroke="#ff5511" stroke-width="1.9"/>
<line x1="319.2" y1="110.0" x2="319.2" y2="189.8" stroke="#ff5511" stroke-width="1.9"/>
<line x1="335.8" y1="36.8" x2="335.8" y2="189.8" stroke="#ff5511" stroke-width="1.9"/>
<line x1="375.8" y1="110.0" x2="375.8" y2="189.8" stroke="#ff5511" stroke-width="1.9"/>
<line x1="481.4" y1="110.0" x2="481.4" y2="190" stroke="#ff5511" stroke-width="1.9"/>
<line x1="610.4" y1="97.2" x2="610.4" y2="229.8" stroke="#ff5511" stroke-width="2.3"/>
<line x1="308.6" y1="13.6" x2="308.6" y2="201" stroke="#ff5511" stroke-width="2.2"/>
<polyline points="312.0,109.0 313.0,109.0 314.0,109.3 315.0,109.2 316.0,108.7 317.0,109.1 318.0,109.3 319.0,109.2 320.0,109.5 321.0,108.8 322.0,109.3 323.0,109.2 324.0,109.3 325.0,108.9 326.0,108.9 327.0,109.2 328.0,109.2 329.0,108.8 330.0,109.3 331.0,109.2 332.0,109.3 333.0,108.7 334.0,109.3 335.0,109.0 336.0,109.1 337.0,109.4 338.0,109.5 339.0,109.2 340.0,109.2 341.0,109.5 342.0,109.0 343.0,109.2 344.0,109.1 345.0,109.0 346.0,109.2 347.0,109.6 348.0,109.3 349.0,109.3 350.0,109.2 351.0,109.4 352.0,109.2 353.0,109.0 354.0,109.2 355.0,109.5 356.0,109.2 357.0,109.4 358.0,109.2 359.0,109.6 360.0,109.3 361.0,109.3 362.0,109.1 363.0,109.4 364.0,109.2 365.0,108.9 366.0,109.3 367.0,109.0 368.0,109.5 369.0,109.4 370.0,109.2 371.0,109.3 372.0,108.7 373.0,109.5 374.0,109.1 375.0,109.3 376.0,109.7 377.0,108.9 378.0,109.1 379.0,109.3 380.0,109.3 381.0,108.9 382.0,109.0 383.0,109.5 384.0,109.1 385.0,109.3 386.0,108.9 387.0,109.0 388.0,108.8 389.0,109.3 390.0,109.4 391.0,109.2 392.0,109.1 393.0,109.3 394.0,109.3 395.0,109.1 396.0,109.3 397.0,109.6 398.0,109.6 399.0,109.1 400.0,108.9 401.0,109.6 402.0,109.4 403.0,109.4 404.0,109.3 405.0,109.2 406.0,109.4 407.0,109.4 408.0,109.4 409.0,109.0 410.0,109.4 411.0,109.1 412.0,109.1 413.0,109.3 414.0,109.1 415.0,109.7 416.0,109.3 417.0,109.3 418.0,109.2 419.0,109.3 420.0,109.2 421.0,109.3 422.0,109.4 423.0,109.4 424.0,108.9 425.0,109.1 426.0,109.2 427.0,109.0 428.0,109.3 429.0,109.2 430.0,109.2 431.0,109.3 432.0,109.1 433.0,109.5 434.0,109.4 435.0,109.1 436.0,109.3 437.0,109.4 438.0,109.0 439.0,109.1 440.0,109.3 441.0,108.7 442.0,108.9 443.0,109.3 444.0,109.3 445.0,109.0 446.0,109.4 447.0,109.6 448.0,109.2 449.0,109.2 450.0,109.2 451.0,109.0 452.0,109.3 453.0,109.2 454.0,109.4 455.0,109.5 456.0,109.2 457.0,109.2 458.0,109.3 459.0,109.6 460.0,108.9 461.0,109.2 462.0,109.1 463.0,109.2 464.0,109.4 465.0,109.2 466.0,109.4 467.0,109.2 468.0,109.1 469.0,109.1 470.0,108.9 471.0,109.2 472.0,109.1 473.0,109.4 474.0,109.4 475.0,109.0 476.0,109.0 477.0,109.3 478.0,109.0 479.0,109.2 480.0,109.3 481.0,109.1 482.0,109.6 483.0,109.0 484.0,109.3 485.0,109.1 486.0,108.6 487.0,109.2 488.0,109.2 489.0,109.3 490.0,109.2 491.0,109.1 492.0,109.1 493.0,109.1 494.0,109.4 495.0,109.1 496.0,109.5 497.0,109.4 498.0,109.1 499.0,109.4 500.0,108.7 501.0,109.2 502.0,109.0 503.0,109.2 504.0,109.4 505.0,109.2 506.0,109.2 507.0,109.5 508.0,109.0 509.0,109.0 510.0,109.4 511.0,109.3 512.0,108.9 513.0,109.2 514.0,109.4 515.0,109.2 516.0,109.1 517.0,109.2 518.0,109.2 519.0,109.1 520.0,109.4 521.0,108.9 522.0,109.2 523.0,109.6 524.0,109.0 525.0,109.2 526.0,108.7 527.0,109.0 528.0,109.0 529.0,109.2 530.0,109.1 531.0,109.6 532.0,109.0 533.0,109.2 534.0,109.2 535.0,109.3 536.0,109.4 537.0,108.9 538.0,109.6 539.0,109.1 540.0,109.1 541.0,108.9 542.0,109.1 543.0,108.8 544.0,109.2 545.0,109.1 546.0,109.3 547.0,109.0 548.0,109.2 549.0,109.6 550.0,109.4 551.0,109.2 552.0,109.0 553.0,109.5 554.0,108.9 555.0,108.9 556.0,109.5 557.0,109.1 558.0,109.5 559.0,109.3 560.0,109.6 561.0,109.6 562.0,109.3 563.0,109.1 564.0,109.3 565.0,109.5 566.0,109.2 567.0,108.6 568.0,109.1 569.0,109.1 570.0,109.2 571.0,109.1 572.0,109.4 573.0,108.9 574.0,109.3 575.0,108.8 576.0,108.8 577.0,109.0 578.0,109.1 579.0,109.0 580.0,109.1 581.0,109.3 582.0,109.3 583.0,109.2 584.0,109.2 585.0,109.1 586.0,109.0 587.0,108.9 588.0,109.1 589.0,109.0 590.0,109.1 591.0,109.3 592.0,109.3 593.0,109.5 594.0,109.0 595.0,108.8 596.0,109.0 597.0,109.6 598.0,109.3 599.0,109.1 600.0,109.5 601.0,109.1 602.0,109.5 603.0,109.1 604.0,109.1 605.0,109.3 606.0,109.0 607.0,109.2 608.0,109.6 609.0,109.3 610.0,109.0 611.0,109.1 612.0,109.2 613.0,109.0 614.0,109.3 615.0,109.5 616.0,109.2 617.0,109.4 618.0,109.3 619.0,109.2 620.0,109.0 621.0,109.4 622.0,109.5 623.0,109.1 624.0,109.0 625.0,109.3 626.0,109.2 627.0,109.4 628.0,109.3 629.0,109.2 630.0,108.9 631.0,109.3 632.0,109.2 633.0,108.9 634.0,108.9 635.0,108.8 636.0,109.3 637.0,109.1 638.0,108.5 639.0,109.0 640.0,109.1 641.0,109.2 642.0,109.2 643.0,109.1 644.0,109.3 645.0,109.4 646.0,109.2 647.0,109.5 648.0,109.2 649.0,109.0 650.0,109.2 651.0,108.9 652.0,109.1 653.0,109.0 654.0,109.1 655.0,109.2 656.0,108.7 657.0,109.3 658.0,109.3 659.0,109.2 660.0,109.3 661.0,109.3 662.0,109.1 663.0,109.0 664.0,109.3 665.0,109.4 666.0,108.9 667.0,109.1 668.0,109.0 669.0,109.4 670.0,109.1 671.0,108.9 672.0,109.5 673.0,109.3 674.0,109.2 675.0,109.2 676.0,109.2 677.0,109.2 678.0,109.4 679.0,109.3 680.0,109.1 681.0,109.2 682.0,109.6 683.0,109.1 684.0,108.9 685.0,109.2 686.0,109.0 687.0,109.7 688.0,109.3 689.0,109.3 690.0,109.3 691.0,109.6 692.0,109.0 693.0,109.2 694.0,108.9 695.0,109.4 696.0,109.2 697.0,109.6 698.0,109.1 699.0,109.0 700.0,109.1 701.0,109.4 702.0,109.0 703.0,109.3 704.0,109.1 705.0,109.1 706.0,109.1 707.0,109.5 708.0,109.0 709.0,109.3 710.0,109.4 711.0,109.0 712.0,108.9 713.0,109.5 714.0,109.5 715.0,109.1 716.0,109.0 717.0,109.4 718.0,109.2 719.0,109.0 720.0,109.1 721.0,108.7 722.0,109.0 723.0,109.0 724.0,108.9 725.0,109.3 726.0,109.3 727.0,109.5 728.0,108.7 729.0,109.1 730.0,109.0 731.0,109.5 732.0,109.4 733.0,109.2 734.0,109.2 735.0,109.0 736.0,109.1 737.0,109.1 738.0,108.7 739.0,109.6 740.0,109.3 741.0,109.6 742.0,109.4 743.0,109.3 744.0,109.4 745.0,108.9 746.0,109.0 747.0,109.4 748.0,109.1 749.0,108.9 750.0,109.2 751.0,108.9 752.0,109.2 753.0,109.5 754.0,109.0 755.0,109.1 756.0,109.3 757.0,109.2 758.0,109.2 759.0,109.0 760.0,109.1 761.0,108.7 762.0,109.2 763.0,109.5 764.0,109.0 765.0,109.2 766.0,109.3 767.0,109.4 768.0,109.4 769.0,109.0 770.0,109.1 771.0,109.6 772.0,109.1 773.0,109.3 774.0,109.0" fill="none" stroke="#55ad1f" stroke-width="1.9" stroke-linejoin="round"/>
<path d="M308 109 L310 112 L313 109.5" fill="none" stroke="#55ad1f" stroke-width="2.5"/>
<line x1="309.3" y1="109" x2="309.3" y2="190" stroke="#55ad1f" stroke-width="2.4"/>
<line x1="374.4" y1="109" x2="374.4" y2="190" stroke="#55ad1f" stroke-width="2.6"/>
<line x1="522.9" y1="109" x2="522.9" y2="190" stroke="#55ad1f" stroke-width="2.8"/>
<path d="M307.8 11.0 H774.8 V242.8 H307.8 Z" fill="none" stroke="#4d4d4d" stroke-width="1"/>
<path d="M307.8 11.0 H774.8" fill="none" stroke="#bdbdbd" stroke-width="1"/>
<path d="M307.8 242.8 v-4.5 M307.8 11.0 v4.5 M374.5 242.8 v-4.5 M374.5 11.0 v4.5 M441.2 242.8 v-4.5 M441.2 11.0 v4.5 M507.9 242.8 v-4.5 M507.9 11.0 v4.5 M574.6 242.8 v-4.5 M574.6 11.0 v4.5 M641.3 242.8 v-4.5 M641.3 11.0 v4.5 M708.0 242.8 v-4.5 M708.0 11.0 v4.5 M774.7 242.8 v-4.5 M774.7 11.0 v4.5 M307.8 242.8 h4.5 M774.8 242.8 h-4.5 M307.8 209.7 h4.5 M774.8 209.7 h-4.5 M307.8 176.6 h4.5 M774.8 176.6 h-4.5 M307.8 143.4 h4.5 M774.8 143.4 h-4.5 M307.8 110.3 h4.5 M774.8 110.3 h-4.5 M307.8 77.2 h4.5 M774.8 77.2 h-4.5 M307.8 44.1 h4.5 M774.8 44.1 h-4.5 M307.8 11.0 h4.5 M774.8 11.0 h-4.5" stroke="#4d4d4d" stroke-width="1" fill="none"/>
<text x="303.8" y="247.3" text-anchor="end" style="font-family:'Liberation Sans',sans-serif;font-size:11.6px" fill="#262626">2000</text>
<line x1="269.8" y1="243.0" x2="274.8" y2="243.0" stroke="#707070" stroke-width="1.2"/>
<text x="303.8" y="214.2" text-anchor="end" style="font-family:'Liberation Sans',sans-serif;font-size:11.6px" fill="#262626">1500</text>
<line x1="269.8" y1="209.9" x2="274.8" y2="209.9" stroke="#707070" stroke-width="1.2"/>
<text x="303.8" y="181.1" text-anchor="end" style="font-family:'Liberation Sans',sans-serif;font-size:11.6px" fill="#262626">1000</text>
<line x1="269.8" y1="176.8" x2="274.8" y2="176.8" stroke="#707070" stroke-width="1.2"/>
<text x="303.8" y="147.9" text-anchor="end" style="font-family:'Liberation Sans',sans-serif;font-size:11.6px" fill="#262626">500</text>
<line x1="276.2" y1="143.6" x2="281.2" y2="143.6" stroke="#707070" stroke-width="1.2"/>
<text x="303.8" y="114.8" text-anchor="end" style="font-family:'Liberation Sans',sans-serif;font-size:11.6px" fill="#262626">0</text>
<text x="303.8" y="81.7" text-anchor="end" style="font-family:'Liberation Sans',sans-serif;font-size:11.6px" fill="#262626">500</text>
<text x="303.8" y="48.6" text-anchor="end" style="font-family:'Liberation Sans',sans-serif;font-size:11.6px" fill="#262626">1000</text>
<text x="303.8" y="15.5" text-anchor="end" style="font-family:'Liberation Sans',sans-serif;font-size:11.6px" fill="#262626">1500</text>
<text x="308.0" y="257.6" text-anchor="middle" style="font-family:'Liberation Sans',sans-serif;font-size:11.5px;font-weight:bold" fill="#333">0</text>
<text x="374.7" y="257.6" text-anchor="middle" style="font-family:'Liberation Sans',sans-serif;font-size:11.5px;font-weight:bold" fill="#333">1</text>
<text x="441.4" y="257.6" text-anchor="middle" style="font-family:'Liberation Sans',sans-serif;font-size:11.5px;font-weight:bold" fill="#333">2</text>
<text x="508.1" y="257.6" text-anchor="middle" style="font-family:'Liberation Sans',sans-serif;font-size:11.5px;font-weight:bold" fill="#333">3</text>
<text x="574.8" y="257.6" text-anchor="middle" style="font-family:'Liberation Sans',sans-serif;font-size:11.5px;font-weight:bold" fill="#333">4</text>
<text x="641.5" y="257.6" text-anchor="middle" style="font-family:'Liberation Sans',sans-serif;font-size:11.5px;font-weight:bold" fill="#333">5</text>
<text x="708.2" y="257.6" text-anchor="middle" style="font-family:'Liberation Sans',sans-serif;font-size:11.5px;font-weight:bold" fill="#333">6</text>
<text x="774.9" y="257.6" text-anchor="middle" style="font-family:'Liberation Sans',sans-serif;font-size:11.5px;font-weight:bold" fill="#333">7</text>
<text x="542" y="273.6" text-anchor="middle" style="font-family:'Liberation Sans',sans-serif;font-size:12px;font-weight:bold" fill="#3a3a3a">Time(s)</text>
<text transform="translate(264,127.4) rotate(-90)" text-anchor="middle" style="font-family:'Liberation Sans',sans-serif;font-size:12px;font-weight:bold" fill="#3a3a3a">Voltage(mV)</text>
<rect x="698.6" y="16.3" width="71.8" height="40.5" fill="#fff" stroke="#4d4d4d" stroke-width="1"/>
<line x1="700.6" y1="23.5" x2="719.3" y2="23.5" stroke="#1a72c4" stroke-width="1.8"/>
<text x="721.2" y="27.1" style="font-family:'Liberation Sans',sans-serif;font-size:10px;font-weight:bold;white-space:pre" fill="#111" xml:space="preserve">Lead  DI</text>
<line x1="700.6" y1="36.6" x2="719.3" y2="36.6" stroke="#ff5511" stroke-width="1.8"/>
<text x="721.2" y="40.2" style="font-family:'Liberation Sans',sans-serif;font-size:10px;font-weight:bold;white-space:pre" fill="#111" xml:space="preserve">Lead  aVF</text>
<line x1="700.6" y1="49.7" x2="719.3" y2="49.7" stroke="#55ad1f" stroke-width="1.8"/>
<text x="721.2" y="53.3" style="font-family:'Liberation Sans',sans-serif;font-size:10px;font-weight:bold;white-space:pre" fill="#111" xml:space="preserve">Lead  V2</text>
<clipPath id="cclip"><rect x="123.6" y="325.8" width="591.7" height="274.6"/></clipPath>
<g clip-path="url(#cclip)" fill="none" stroke-linejoin="round" stroke-linecap="round">
<path d="M124.0 586.6 L124.5 585.9 L125.0 586.6 L125.5 586.1 L126.0 586.5 L126.5 586.5 L127.0 587.2 L127.5 587.0 L128.0 586.9 L128.5 586.6 L129.0 586.3 L129.5 586.9 L130.0 586.4 L130.5 586.6 L131.0 586.8 L131.5 586.2 L132.0 586.0 L132.5 585.4 L133.0 585.7 L133.5 585.2 L134.0 584.8 L134.5 584.7 L135.0 583.4 L135.5 583.6 L136.0 583.4 L136.5 583.0 L137.0 582.8 L137.5 582.6 L138.0 581.9 L138.5 582.2 L139.0 582.6 L139.5 582.4 L140.0 582.9 L140.5 584.1 L141.0 584.3 L141.5 585.8 L142.0 586.7 L142.5 586.3 L143.0 586.2 L143.5 586.6 L144.0 586.3 L144.5 586.1 L145.0 586.4 L145.5 585.9 L146.0 586.5 L146.5 586.0 L147.0 586.2 L147.5 586.5 L148.0 586.3 L148.5 586.4 L149.0 586.7 L149.5 586.7 L150.0 586.9 L150.5 586.1 L151.0 586.5 L151.5 585.7 L152.0 586.5 L152.5 586.6 L153.0 586.0 L153.5 586.3 L154.0 586.4 L154.5 586.1 L155.0 586.0 L155.5 586.6 L156.0 585.7 L156.5 586.2 L157.0 586.4 L157.5 586.2 L158.0 586.6 L158.5 586.5 L159.0 586.2 L159.5 586.6 L160.0 586.3 L160.5 585.6 L161.0 585.9 L161.5 586.1 L162.0 585.9 L162.5 585.3 L163.0 586.4 L163.5 585.1 L164.0 585.1 L164.5 585.4 L165.0 585.2 L165.5 585.6 L166.0 585.2 L166.5 585.3 L167.0 585.5 L167.5 585.2 L168.0 585.1 L168.5 585.5 L169.0 586.0 L169.5 585.7 L170.0 586.2 L170.5 585.6 L171.0 586.0 L171.5 585.8 L172.0 586.0 L172.5 585.8 L173.0 585.8 L173.5 585.6 L174.0 586.1 L174.5 585.7 L175.0 585.9 L175.5 585.9 L176.0 585.4 L176.5 585.5 L177.0 585.7 L177.5 586.1 L178.0 585.4 L178.5 585.5 L179.0 585.4 L179.5 585.5 L180.0 585.1 L180.5 585.0 L181.0 585.1 L181.5 584.3 L182.0 584.3 L182.5 583.6 L183.0 583.5 L183.5 583.4 L184.0 582.3 L184.5 582.6 L185.0 582.4 L185.5 582.1 L186.0 582.0 L186.5 581.9 L187.0 581.3 L187.5 581.6 L188.0 582.0 L188.5 582.7 L189.0 582.8 L189.5 584.0 L190.0 584.6 L190.5 585.7 L191.0 585.7 L191.5 585.8 L192.0 586.3 L192.5 586.8 L193.0 585.5 L193.5 586.6 L194.0 585.8 L194.5 586.3 L195.0 586.2 L195.5 586.5 L196.0 586.1 L196.5 585.9 L197.0 586.2 L197.5 586.4 L198.0 585.9 L198.5 586.3 L199.0 586.2 L199.5 586.3 L200.0 586.2 L200.5 586.4 L201.0 586.5 L201.5 586.2 L202.0 586.2 L202.5 585.6 L203.0 586.0 L203.5 585.9 L204.0 586.5 L204.5 586.0 L205.0 586.1 L205.5 586.5 L206.0 586.7 L206.5 586.8 L207.0 586.1 L207.5 586.5 L208.0 586.7 L208.5 586.2 L209.0 586.4 L209.5 586.1 L210.0 586.3 L210.5 586.7 L211.0 586.4 L211.5 586.2 L212.0 586.1 L212.5 586.6 L213.0 586.2 L213.5 585.5 L214.0 586.5 L214.5 585.6 L215.0 585.8 L215.5 585.7 L216.0 585.8 L216.5 586.4 L217.0 585.9 L217.5 586.4 L218.0 586.4 L218.5 587.1 L219.0 586.8 L219.5 586.8 L220.0 586.8 L220.5 586.9 L221.0 586.8 L221.5 586.0 L222.0 586.9 L222.5 586.7 L223.0 587.0 L223.5 586.9 L224.0 586.6 L224.5 586.5 L225.0 586.5 L225.5 586.9 L226.0 586.8 L226.5 586.5 L227.0 586.7 L227.5 586.9 L228.0 586.6 L228.5 586.6 L229.0 586.3 L229.5 585.4 L230.0 585.9 L230.5 585.6 L231.0 585.5 L231.5 585.3 L232.0 584.3 L232.5 584.3 L233.0 583.9 L233.5 583.5 L234.0 583.5 L234.5 583.2 L235.0 582.4 L235.5 583.1 L236.0 582.5 L236.5 582.3 L237.0 582.4 L237.5 583.1 L238.0 583.6 L238.5 585.3 L239.0 586.0 L239.5 586.2 L240.0 587.0 L240.5 586.9 L241.0 586.8 L241.5 587.1 L242.0 586.8 L242.5 586.7 L243.0 586.9 L243.5 586.2 L244.0 586.4 L244.5 586.9 L245.0 587.1 L245.5 586.3 L246.0 586.8 L246.5 586.6 L247.0 586.7 L247.5 587.0 L248.0 587.2 L248.5 587.3 L249.0 587.1 L249.5 587.0 L250.0 586.8 L250.5 586.2 L251.0 586.9 L251.5 586.4 L252.0 586.5 L252.5 586.8 L253.0 586.3 L253.5 587.3 L254.0 587.0 L254.5 586.9 L255.0 586.9 L255.5 586.9 L256.0 586.8 L256.5 587.0 L257.0 586.6 L257.5 586.9 L258.0 586.8 L258.5 587.0 L259.0 586.5 L259.5 586.9 L260.0 586.8 L260.5 587.0 L261.0 587.0 L261.5 586.9 L262.0 586.9 L262.5 586.8 L263.0 587.1 L263.5 586.6 L264.0 586.6 L264.5 586.0 L265.0 586.1 L265.5 586.3 L266.0 586.3 L266.5 585.7 L267.0 586.1 L267.5 586.1 L268.0 586.3 L268.5 586.3 L269.0 586.4 L269.5 586.6 L270.0 586.8 L270.5 587.1 L271.0 586.5 L271.5 586.5 L272.0 587.0 L272.5 586.9 L273.0 586.7 L273.5 586.4 L274.0 587.1 L274.5 586.5 L275.0 587.1 L275.5 586.9 L276.0 586.8 L276.5 586.8 L277.0 587.1 L277.5 586.8 L278.0 586.3 L278.5 586.6 L279.0 586.2 L279.5 586.9 L280.0 587.0 L280.5 586.9 L281.0 585.9 L281.5 586.7 L282.0 586.3 L282.5 585.4 L283.0 584.5 L283.5 584.4 L284.0 584.7 L284.5 584.6 L285.0 583.5 L285.5 582.9 L286.0 582.9 L286.5 583.5 L287.0 582.8 L287.5 582.3 L288.0 582.0 L288.5 582.9 L289.0 583.5 L289.5 583.9 L290.0 584.9 L290.5 585.9 L291.0 586.5 L291.5 586.8 L292.0 586.9 L292.5 586.9 L293.0 587.4 L293.5 587.2 L294.0 587.4 L294.5 587.6 L295.0 586.4 L295.5 587.1 L296.0 587.4 L296.5 587.0 L297.0 586.9 L297.5 587.2 L298.0 587.0 L298.5 586.9 L299.0 587.0 L299.5 587.2 L300.0 587.2 L300.5 587.4 L301.0 587.2 L301.5 587.0 L302.0 588.1 L302.5 587.1 L303.0 587.1 L303.5 587.2 L304.0 587.0 L304.5 586.7 L305.0 587.3 L305.5 587.7 L306.0 586.7 L306.5 587.0 L307.0 587.4 L307.5 587.1 L308.0 587.4 L308.5 587.3 L309.0 586.9 L309.5 587.2 L310.0 587.1 L310.5 587.5 L311.0 586.5 L311.5 587.4 L312.0 587.7 L312.5 587.4 L313.0 587.4 L313.5 587.2 L314.0 587.5 L314.5 587.3 L315.0 587.0 L315.5 587.0 L316.0 586.7 L316.5 587.5 L317.0 587.4 L317.5 587.6 L318.0 587.3 L318.5 587.3 L319.0 586.6 L319.5 586.3 L320.0 586.6 L320.5 586.6 L321.0 586.8 L321.5 586.7 L322.0 586.7 L322.5 586.9 L323.0 587.1 L323.5 587.3 L324.0 587.4 L324.5 587.2 L325.0 587.4 L325.5 587.0 L326.0 587.2 L326.5 587.4 L327.0 587.7 L327.5 587.3 L328.0 587.1 L328.5 587.9 L329.0 587.3 L329.5 587.1 L330.0 587.3 L330.5 587.2 L331.0 586.9 L331.5 587.5 L332.0 588.1 L332.5 587.4 L333.0 587.4 L333.5 587.9 L334.0 587.6 L334.5 587.5 L335.0 587.8 L335.5 586.8 L336.0 586.9 L336.5 586.8 L337.0 586.4 L337.5 585.6 L338.0 585.3 L338.5 585.8 L339.0 584.9 L339.5 584.5 L340.0 584.6 L340.5 583.4 L341.0 583.7 L341.5 583.0 L342.0 583.8 L342.5 583.0 L343.0 583.3 L343.5 583.2 L344.0 584.1 L344.5 585.1 L345.0 585.9 L345.5 586.7 L346.0 587.5 L346.5 587.5 L347.0 587.4 L347.5 587.8 L348.0 587.9 L348.5 587.2 L349.0 587.3 L349.5 587.4 L350.0 587.7 L350.5 587.2 L351.0 588.1 L351.5 587.6 L352.0 587.6 L352.5 587.9 L353.0 587.4 L353.5 587.7 L354.0 587.7 L354.5 588.0 L355.0 587.3 L355.5 588.0 L356.0 587.8 L356.5 587.7 L357.0 587.9 L357.5 587.5 L358.0 587.5 L358.5 587.8 L359.0 587.5 L359.5 587.9 L360.0 588.0 L360.5 587.7 L361.0 587.7 L361.5 587.4 L362.0 587.3 L362.5 588.0 L363.0 587.3 L363.5 587.6 L364.0 587.7 L364.5 587.3 L365.0 587.4 L365.5 587.4 L366.0 588.2 L366.5 587.7 L367.0 588.0 L367.5 588.2 L368.0 587.9 L368.5 587.9 L369.0 587.3 L369.5 587.1 L370.0 587.7 L370.5 587.5 L371.0 586.7 L371.5 587.2 L372.0 586.9 L372.5 587.1 L373.0 587.2 L373.5 587.6 L374.0 586.9 L374.5 587.3 L375.0 587.8 L375.5 587.4 L376.0 587.7 L376.5 587.5 L377.0 587.1 L377.5 587.4 L378.0 587.9 L378.5 587.4 L379.0 587.1 L379.5 587.5 L380.0 587.6 L380.5 587.8 L381.0 587.7 L381.5 587.8 L382.0 587.3 L382.5 587.4 L383.0 587.3 L383.5 587.4 L384.0 587.7 L384.5 588.0 L385.0 587.5 L385.5 587.8 L386.0 587.7 L386.5 586.9 L387.0 586.7 L387.5 586.7 L388.0 585.9 L388.5 586.6 L389.0 585.1 L389.5 584.9 L390.0 585.1 L390.5 584.3 L391.0 584.4 L391.5 583.6 L392.0 584.0 L392.5 583.3 L393.0 583.5 L393.5 583.5 L394.0 582.7 L394.5 582.9 L395.0 583.1 L395.5 584.1 L396.0 585.6 L396.5 586.2 L397.0 587.2 L397.5 587.7 L398.0 587.7 L398.5 587.6 L399.0 587.2 L399.5 587.2 L400.0 587.4 L400.5 587.6 L401.0 587.6 L401.5 587.4 L402.0 587.2 L402.5 587.3 L403.0 587.8 L403.5 587.3 L404.0 587.9 L404.5 587.0 L405.0 587.5 L405.5 587.3 L406.0 587.5 L406.5 587.0 L407.0 587.3 L407.5 587.2 L408.0 587.1 L408.5 586.8 L409.0 586.8 L409.5 587.1 L410.0 587.3 L410.5 587.2 L411.0 587.2 L411.5 587.2 L412.0 586.7 L412.5 587.4 L413.0 587.1 L413.5 586.9 L414.0 586.9 L414.5 587.4 L415.0 587.1 L415.5 586.6 L416.0 587.7 L416.5 586.6 L417.0 587.6 L417.5 587.3 L418.0 586.7 L418.5 587.4 L419.0 587.3 L419.5 587.2 L420.0 586.9 L420.5 586.7 L421.0 586.5 L421.5 586.2 L422.0 586.3 L422.5 586.6 L423.0 586.1 L423.5 586.8 L424.0 585.9 L424.5 586.5 L425.0 586.2 L425.5 586.2 L426.0 586.9 L426.5 586.7 L427.0 586.7 L427.5 586.6 L428.0 586.8 L428.5 586.4 L429.0 586.8 L429.5 586.7 L430.0 586.5 L430.5 587.0 L431.0 586.3 L431.5 587.0 L432.0 586.9 L432.5 587.0 L433.0 586.9 L433.5 587.0 L434.0 586.7 L434.5 586.5 L435.0 586.9 L435.5 586.6 L436.0 586.7 L436.5 586.7 L437.0 586.2 L437.5 586.5 L438.0 585.5 L438.5 586.0 L439.0 585.2 L439.5 585.4 L440.0 584.9 L440.5 584.4 L441.0 583.9 L441.5 583.6 L442.0 582.8 L442.5 582.8 L443.0 582.5 L443.5 582.4 L444.0 582.5 L444.5 582.3 L445.0 582.7 L445.5 583.1 L446.0 583.9 L446.5 585.1 L447.0 586.0 L447.5 586.1 L448.0 586.7 L448.5 587.7 L449.0 586.8 L449.5 586.9 L450.0 586.5 L450.5 587.1 L451.0 587.3 L451.5 587.0 L452.0 586.8 L452.5 586.8 L453.0 586.2 L453.5 587.0 L454.0 586.7 L454.5 586.9 L455.0 586.9 L455.5 586.9 L456.0 587.4 L456.5 587.1 L457.0 586.6 L457.5 587.0 L458.0 587.0 L458.5 586.8 L459.0 587.2 L459.5 586.7 L460.0 586.3 L460.5 586.5 L461.0 586.9 L461.5 586.5 L462.0 586.9 L462.5 586.4 L463.0 586.9 L463.5 586.7 L464.0 586.5 L464.5 586.6 L465.0 586.7 L465.5 587.1 L466.0 586.9 L466.5 586.8 L467.0 586.9 L467.5 587.1 L468.0 587.0 L468.5 587.3 L469.0 586.6 L469.5 587.1 L470.0 586.8 L470.5 586.5 L471.0 586.8 L471.5 586.8 L472.0 586.7 L472.5 586.4 L473.0 585.9 L473.5 586.1 L474.0 586.1 L474.5 586.5 L475.0 586.2 L475.5 586.3 L476.0 586.9 L476.5 586.5 L477.0 586.5 L477.5 586.8 L478.0 587.0 L478.5 586.8 L479.0 586.3 L479.5 586.7 L480.0 587.1 L480.5 586.6 L481.0 587.1 L481.5 586.9 L482.0 586.6 L482.5 587.1 L483.0 586.2 L483.5 586.2 L484.0 586.4 L484.5 587.0 L485.0 586.7 L485.5 587.0 L486.0 586.8 L486.5 586.9 L487.0 586.7 L487.5 586.7 L488.0 586.9 L488.5 586.7 L489.0 585.8 L489.5 586.1 L490.0 586.2 L490.5 585.5 L491.0 584.6 L491.5 584.7 L492.0 584.2 L492.5 583.8 L493.0 583.8 L493.5 583.6 L494.0 582.9 L494.5 582.9 L495.0 582.6 L495.5 582.6 L496.0 583.1 L496.5 582.7 L497.0 583.6 L497.5 584.4 L498.0 585.3 L498.5 585.8 L499.0 586.9 L499.5 586.6 L500.0 587.2 L500.5 586.9 L501.0 587.0 L501.5 586.8 L502.0 586.7 L502.5 586.7 L503.0 587.0 L503.5 586.9 L504.0 587.1 L504.5 586.9 L505.0 587.2 L505.5 587.0 L506.0 587.0 L506.5 586.9 L507.0 587.0 L507.5 587.2 L508.0 586.8 L508.5 586.7 L509.0 587.1 L509.5 587.1 L510.0 587.0 L510.5 587.1 L511.0 586.6 L511.5 586.7 L512.0 587.0 L512.5 587.0 L513.0 586.7 L513.5 587.2 L514.0 586.5 L514.5 587.4 L515.0 586.8 L515.5 586.9 L516.0 586.8 L516.5 586.7 L517.0 587.0 L517.5 586.5 L518.0 587.0 L518.5 587.1 L519.0 587.0 L519.5 587.0 L520.0 586.6 L520.5 586.4 L521.0 586.4 L521.5 587.0 L522.0 586.6 L522.5 585.9 L523.0 586.9 L523.5 586.5 L524.0 586.7 L524.5 586.8 L525.0 587.0 L525.5 586.3 L526.0 586.9 L526.5 586.8 L527.0 587.6 L527.5 587.3 L528.0 587.1 L528.5 587.1 L529.0 586.5 L529.5 587.2 L530.0 586.9 L530.5 587.6 L531.0 587.4 L531.5 587.2 L532.0 587.1 L532.5 587.5 L533.0 587.1 L533.5 587.5 L534.0 587.3 L534.5 587.1 L535.0 587.3 L535.5 587.7 L536.0 586.7 L536.5 587.4 L537.0 587.4 L537.5 586.9 L538.0 587.2 L538.5 586.7 L539.0 586.4 L539.5 585.6 L540.0 585.7 L540.5 584.8 L541.0 585.0 L541.5 585.1 L542.0 583.9 L542.5 584.3 L543.0 583.3 L543.5 583.4 L544.0 583.4 L544.5 582.6 L545.0 583.1 L545.5 582.7 L546.0 583.1 L546.5 584.2 L547.0 584.8 L547.5 585.9 L548.0 586.6 L548.5 587.3 L549.0 587.7 L549.5 587.3 L550.0 587.2 L550.5 587.3 L551.0 587.5 L551.5 587.4 L552.0 586.7 L552.5 587.3 L553.0 587.4 L553.5 588.1 L554.0 587.1 L554.5 587.2 L555.0 587.0 L555.5 587.3 L556.0 586.8 L556.5 587.1 L557.0 587.3 L557.5 586.9 L558.0 587.2 L558.5 587.1 L559.0 587.7 L559.5 587.8 L560.0 588.0 L560.5 587.4 L561.0 587.5 L561.5 588.0 L562.0 587.1 L562.5 587.8 L563.0 587.1 L563.5 587.7 L564.0 586.9 L564.5 587.2 L565.0 587.3 L565.5 587.3 L566.0 586.7 L566.5 587.2 L567.0 587.0 L567.5 587.4 L568.0 587.0 L568.5 586.1 L569.0 586.7 L569.5 586.9 L570.0 586.6 L570.5 586.4 L571.0 586.4 L571.5 586.8 L572.0 586.8 L572.5 587.1 L573.0 587.1 L573.5 587.7 L574.0 587.1 L574.5 587.5 L575.0 587.1 L575.5 587.5 L576.0 587.7 L576.5 587.2 L577.0 587.0 L577.5 587.4 L578.0 587.4 L578.5 587.2 L579.0 587.5 L579.5 587.4 L580.0 587.6 L580.5 587.0 L581.0 587.6 L581.5 587.8 L582.0 587.1 L582.5 587.9 L583.0 587.4 L583.5 586.8 L584.0 586.7 L584.5 586.6 L585.0 586.3 L585.5 586.1 L586.0 585.9 L586.5 585.4 L587.0 585.0 L587.5 584.4 L588.0 583.8 L588.5 583.8 L589.0 583.4 L589.5 583.7 L590.0 582.5 L590.5 583.4 L591.0 582.1 L591.5 582.9 L592.0 583.0 L592.5 583.1 L593.0 583.9 L593.5 585.4 L594.0 585.7 L594.5 586.7 L595.0 587.1 L595.5 587.3 L596.0 586.8 L596.5 587.5 L597.0 587.1 L597.5 587.4 L598.0 586.7 L598.5 587.4 L599.0 587.1 L599.5 587.3 L600.0 586.9 L600.5 587.3 L601.0 587.1 L601.5 586.5 L602.0 587.8 L602.5 586.8 L603.0 587.2 L603.5 587.0 L604.0 586.9 L604.5 586.9 L605.0 587.3 L605.5 587.3 L606.0 587.2 L606.5 586.5 L607.0 587.2 L607.5 586.5 L608.0 587.5 L608.5 586.9 L609.0 587.0 L609.5 586.5 L610.0 586.4 L610.5 586.0 L611.0 586.7 L611.5 586.0 L612.0 586.4 L612.5 585.9 L613.0 586.2 L613.5 586.3 L614.0 586.5 L614.5 586.5 L615.0 586.9 L615.5 586.9 L616.0 586.3 L616.5 586.6 L617.0 586.4 L617.5 587.1 L618.0 586.4 L618.5 586.9 L619.0 586.8 L619.5 586.7 L620.0 586.2 L620.5 587.2 L621.0 586.7 L621.5 586.9 L622.0 587.0 L622.5 586.4 L623.0 586.5 L623.5 587.3 L624.0 587.4 L624.5 586.6 L625.0 586.8 L625.5 586.9 L626.0 586.4 L626.5 586.7 L627.0 586.2 L627.5 585.7 L628.0 585.6 L628.5 584.9 L629.0 585.1 L629.5 584.1 L630.0 584.4 L630.5 584.5 L631.0 582.9 L631.5 583.7 L632.0 582.6 L632.5 582.9 L633.0 583.4 L633.5 583.1 L634.0 583.2 L634.5 583.6 L635.0 584.4 L635.5 585.4 L636.0 586.2 L636.5 586.8 L637.0 586.8 L637.5 587.8 L638.0 587.2 L638.5 587.8 L639.0 587.5 L639.5 587.4 L640.0 587.0 L640.5 587.3 L641.0 587.4 L641.5 587.3 L642.0 587.3 L642.5 586.7 L643.0 587.3 L643.5 587.4 L644.0 587.3 L644.5 587.4 L645.0 587.0 L645.5 587.2 L646.0 588.0 L646.5 587.3 L647.0 587.4 L647.5 587.3 L648.0 587.5 L648.5 587.4 L649.0 588.2 L649.5 587.3 L650.0 587.9 L650.5 587.3 L651.0 587.5 L651.5 588.0 L652.0 587.2 L652.5 587.1 L653.0 586.1 L653.5 586.9 L654.0 587.0 L654.5 587.2 L655.0 587.3 L655.5 587.1 L656.0 587.3 L656.5 587.9 L657.0 587.7 L657.5 587.9 L658.0 588.1 L658.5 588.0 L659.0 588.0 L659.5 587.6 L660.0 588.0 L660.5 587.5 L661.0 588.6 L661.5 587.8 L662.0 588.6 L662.5 587.9 L663.0 588.0 L663.5 588.5 L664.0 588.2 L664.5 588.2 L665.0 588.1 L665.5 588.1 L666.0 588.0 L666.5 588.0 L667.0 587.7 L667.5 588.1 L668.0 587.7 L668.5 588.1 L669.0 588.1 L669.5 587.7 L670.0 586.5 L670.5 586.4 L671.0 586.1 L671.5 585.4 L672.0 586.0 L672.5 585.4 L673.0 585.1 L673.5 585.3 L674.0 584.7 L674.5 584.4 L675.0 584.5 L675.5 584.3 L676.0 584.8 L676.5 584.9 L677.0 586.3 L677.5 587.1 L678.0 587.9 L678.5 588.5 L679.0 588.9 L679.5 588.4 L680.0 589.1 L680.5 588.9 L681.0 589.5 L681.5 589.0 L682.0 589.3 L682.5 589.1 L683.0 589.1 L683.5 588.8 L684.0 589.0 L684.5 589.0 L685.0 588.5 L685.5 589.1 L686.0 589.0 L686.5 589.4 L687.0 589.6 L687.5 589.2 L688.0 589.7 L688.5 589.8 L689.0 589.6 L689.5 589.3 L690.0 589.5 L690.5 590.0 L691.0 589.9 L691.5 589.7 L692.0 588.8 L692.5 588.5 L693.0 589.6 L693.5 589.2 L694.0 589.3 L694.5 589.1 L695.0 588.8 L695.5 589.2 L696.0 589.2 L696.5 589.8 L697.0 589.8 L697.5 589.3 L698.0 589.5 L698.5 590.1 L699.0 590.1 L699.5 590.0 L700.0 590.1 L700.5 589.6 L701.0 589.8 L701.5 590.2 L702.0 589.5 L702.5 590.2 L703.0 590.3 L703.5 590.3 L704.0 590.4 L704.5 590.8 L705.0 590.3 L705.5 590.0 L706.0 589.7 L706.5 589.5 L707.0 590.2 L707.5 590.5 L708.0 589.7 L708.5 590.1 L709.0 589.6 L709.5 589.5 L710.0 589.4 L710.5 589.0 L711.0 588.3 L711.5 588.5 L712.0 587.9 L712.5 587.0 L713.0 587.5 L713.5 587.4 L714.0 586.5 L714.5 586.9" stroke="#1a72c4" stroke-width="2.4"/>
<path d="M124.5 586.8 L125.4 591.8 L126.3 586.8 M173.1 585.7 L174.0 590.7 L174.9 585.7 M222.1 586.8 L223.0 591.8 L223.9 586.8 M273.7 586.8 L274.6 591.8 L275.5 586.8 M328.5 587.6 L329.4 592.6 L330.3 587.6 M379.7 587.6 L380.6 592.6 L381.5 587.6 M430.1 586.8 L431.0 591.8 L431.9 586.8 M481.5 586.8 L482.4 591.8 L483.3 586.8 M530.9 587.2 L531.8 592.2 L532.7 587.2 M577.2 587.4 L578.1 592.4 L579.0 587.4 M619.1 586.7 L620.0 591.7 L620.9 586.7 M661.0 588.0 L661.9 593.0 L662.8 588.0 M702.1 590.1 L703.0 595.1 L703.9 590.1" stroke="#1a72c4" stroke-width="1.8"/>
<path d="M124.0 456.0 L124.5 456.3 L125.0 456.8 L125.5 456.8 L126.0 456.6 L126.5 456.7 L127.0 456.3 L127.5 456.7 L128.0 456.7 L128.5 456.7 L129.0 456.6 L129.5 456.7 L130.0 456.6 L130.5 456.7 L131.0 456.1 L131.5 456.7 L132.0 456.2 L132.5 456.2 L133.0 456.1 L133.5 455.8 L134.0 455.0 L134.5 454.8 L135.0 454.5 L135.5 453.7 L136.0 453.3 L136.5 452.7 L137.0 452.2 L137.5 451.4 L138.0 451.1 L138.5 450.7 L139.0 449.8 L139.5 450.1 L140.0 449.3 L140.5 449.6 L141.0 449.6 L141.5 449.8 L142.0 450.0 L142.5 451.0 L143.0 452.1 L143.5 453.9 L144.0 454.9 L144.5 455.3 L145.0 456.7 L145.5 457.0 L146.0 456.6 L146.5 456.7 L147.0 456.8 L147.5 456.5 L148.0 456.6 L148.5 456.9 L149.0 456.7 L149.5 456.8 L150.0 456.8 L150.5 457.3 L151.0 456.9 L151.5 456.9 L152.0 456.7 L152.5 457.2 L153.0 456.8 L153.5 456.8 L154.0 457.2 L154.5 457.2 L155.0 456.6 L155.5 456.8 L156.0 457.2 L156.5 456.7 L157.0 457.3 L157.5 456.8 L158.0 457.4 L158.5 456.6 L159.0 456.4 L159.5 456.5 L160.0 457.5 L160.5 456.7 L161.0 456.8 L161.5 456.8 L162.0 456.3 L162.5 456.4 L163.0 456.2 L163.5 455.8 L164.0 455.7 L164.5 456.2 L165.0 456.1 L165.5 456.2 L166.0 456.5 L166.5 456.3 L167.0 456.8 L167.5 457.2 L168.0 456.6 L168.5 457.3 L169.0 456.3 L169.5 456.5 L170.0 456.6 L170.5 456.8 L171.0 456.8 L171.5 456.9 L172.0 457.3 L172.5 456.9 L173.0 457.0 L173.5 456.7 L174.0 456.7 L174.5 457.1 L175.0 456.9 L175.5 457.3 L176.0 457.1 L176.5 456.6 L177.0 457.3 L177.5 456.7 L178.0 456.9 L178.5 456.8 L179.0 456.8 L179.5 456.9 L180.0 456.7 L180.5 456.8 L181.0 456.8 L181.5 456.8 L182.0 456.5 L182.5 456.4 L183.0 455.0 L183.5 454.8 L184.0 454.7 L184.5 453.5 L185.0 453.1 L185.5 452.8 L186.0 452.4 L186.5 451.6 L187.0 451.1 L187.5 450.5 L188.0 450.4 L188.5 450.0 L189.0 449.9 L189.5 449.5 L190.0 449.8 L190.5 450.1 L191.0 451.0 L191.5 452.2 L192.0 453.4 L192.5 454.6 L193.0 455.7 L193.5 456.1 L194.0 456.9 L194.5 456.9 L195.0 457.3 L195.5 456.1 L196.0 456.4 L196.5 456.5 L197.0 456.5 L197.5 456.8 L198.0 456.5 L198.5 456.5 L199.0 457.0 L199.5 456.7 L200.0 456.3 L200.5 457.0 L201.0 457.4 L201.5 457.0 L202.0 456.7 L202.5 457.1 L203.0 456.7 L203.5 456.6 L204.0 456.8 L204.5 457.0 L205.0 456.7 L205.5 456.6 L206.0 456.3 L206.5 456.7 L207.0 456.3 L207.5 456.6 L208.0 456.2 L208.5 456.4 L209.0 456.3 L209.5 456.4 L210.0 456.3 L210.5 456.9 L211.0 456.4 L211.5 455.9 L212.0 455.5 L212.5 455.9 L213.0 455.4 L213.5 455.5 L214.0 455.7 L214.5 455.4 L215.0 455.8 L215.5 456.0 L216.0 455.9 L216.5 456.1 L217.0 456.1 L217.5 455.4 L218.0 456.3 L218.5 456.9 L219.0 456.7 L219.5 457.2 L220.0 456.5 L220.5 456.7 L221.0 456.3 L221.5 456.2 L222.0 456.2 L222.5 456.6 L223.0 456.6 L223.5 455.9 L224.0 456.6 L224.5 456.7 L225.0 456.6 L225.5 456.0 L226.0 456.4 L226.5 456.5 L227.0 456.0 L227.5 456.0 L228.0 457.0 L228.5 456.1 L229.0 456.2 L229.5 455.7 L230.0 456.0 L230.5 456.3 L231.0 455.7 L231.5 455.0 L232.0 454.8 L232.5 454.3 L233.0 453.8 L233.5 452.8 L234.0 452.6 L234.5 451.7 L235.0 451.2 L235.5 450.5 L236.0 450.0 L236.5 450.0 L237.0 449.0 L237.5 449.3 L238.0 449.8 L238.5 448.7 L239.0 449.0 L239.5 449.6 L240.0 451.0 L240.5 451.3 L241.0 453.1 L241.5 454.1 L242.0 455.7 L242.5 455.7 L243.0 456.7 L243.5 455.8 L244.0 456.2 L244.5 455.8 L245.0 455.9 L245.5 455.7 L246.0 455.9 L246.5 456.5 L247.0 455.9 L247.5 456.7 L248.0 456.5 L248.5 456.1 L249.0 456.0 L249.5 456.1 L250.0 455.8 L250.5 456.2 L251.0 456.0 L251.5 455.4 L252.0 456.0 L252.5 456.1 L253.0 456.0 L253.5 456.0 L254.0 455.9 L254.5 455.8 L255.0 456.2 L255.5 456.3 L256.0 455.8 L256.5 456.1 L257.0 455.6 L257.5 456.2 L258.0 455.6 L258.5 455.9 L259.0 456.1 L259.5 455.7 L260.0 455.9 L260.5 456.1 L261.0 455.7 L261.5 455.9 L262.0 456.1 L262.5 455.5 L263.0 455.0 L263.5 454.9 L264.0 454.8 L264.5 454.7 L265.0 454.7 L265.5 454.1 L266.0 454.6 L266.5 454.9 L267.0 455.4 L267.5 454.8 L268.0 455.1 L268.5 455.7 L269.0 455.6 L269.5 455.9 L270.0 455.6 L270.5 455.5 L271.0 455.6 L271.5 456.0 L272.0 455.9 L272.5 455.7 L273.0 455.7 L273.5 455.9 L274.0 455.8 L274.5 455.7 L275.0 455.8 L275.5 455.6 L276.0 455.3 L276.5 455.9 L277.0 455.9 L277.5 456.0 L278.0 455.6 L278.5 455.3 L279.0 455.7 L279.5 455.4 L280.0 455.1 L280.5 455.6 L281.0 455.4 L281.5 455.5 L282.0 455.1 L282.5 455.2 L283.0 454.8 L283.5 454.3 L284.0 454.0 L284.5 453.0 L285.0 453.2 L285.5 451.5 L286.0 451.6 L286.5 451.1 L287.0 450.1 L287.5 449.8 L288.0 449.0 L288.5 448.8 L289.0 448.8 L289.5 448.2 L290.0 447.9 L290.5 448.4 L291.0 448.7 L291.5 449.5 L292.0 450.8 L292.5 451.8 L293.0 453.7 L293.5 454.7 L294.0 455.2 L294.5 455.4 L295.0 455.6 L295.5 455.6 L296.0 455.4 L296.5 455.4 L297.0 455.7 L297.5 455.4 L298.0 455.4 L298.5 455.5 L299.0 455.3 L299.5 455.7 L300.0 455.3 L300.5 455.9 L301.0 455.8 L301.5 455.6 L302.0 455.8 L302.5 455.9 L303.0 455.5 L303.5 455.6 L304.0 455.4 L304.5 455.5 L305.0 455.5 L305.5 455.6 L306.0 455.7 L306.5 456.2 L307.0 455.7 L307.5 455.9 L308.0 455.5 L308.5 456.1 L309.0 455.6 L309.5 455.6 L310.0 455.5 L310.5 455.6 L311.0 455.5 L311.5 455.7 L312.0 456.1 L312.5 455.6 L313.0 455.4 L313.5 455.1 L314.0 455.6 L314.5 455.3 L315.0 455.4 L315.5 455.6 L316.0 455.7 L316.5 455.7 L317.0 455.6 L317.5 454.9 L318.0 454.8 L318.5 454.5 L319.0 454.3 L319.5 454.3 L320.0 454.2 L320.5 454.6 L321.0 454.3 L321.5 455.4 L322.0 454.4 L322.5 455.4 L323.0 454.9 L323.5 455.3 L324.0 455.2 L324.5 455.6 L325.0 455.7 L325.5 455.5 L326.0 455.4 L326.5 455.3 L327.0 455.4 L327.5 455.4 L328.0 455.4 L328.5 455.6 L329.0 455.8 L329.5 455.4 L330.0 455.0 L330.5 455.5 L331.0 455.8 L331.5 455.3 L332.0 455.6 L332.5 455.2 L333.0 455.2 L333.5 455.6 L334.0 455.0 L334.5 455.4 L335.0 454.7 L335.5 455.2 L336.0 455.5 L336.5 455.1 L337.0 454.8 L337.5 454.8 L338.0 454.0 L338.5 453.4 L339.0 453.1 L339.5 452.6 L340.0 452.1 L340.5 451.4 L341.0 451.2 L341.5 450.4 L342.0 449.7 L342.5 449.9 L343.0 448.4 L343.5 448.6 L344.0 448.0 L344.5 448.7 L345.0 448.1 L345.5 448.5 L346.0 449.0 L346.5 450.2 L347.0 450.8 L347.5 452.4 L348.0 452.9 L348.5 454.5 L349.0 455.2 L349.5 455.4 L350.0 455.3 L350.5 454.6 L351.0 455.1 L351.5 455.0 L352.0 455.5 L352.5 455.2 L353.0 455.2 L353.5 455.4 L354.0 455.2 L354.5 454.6 L355.0 454.8 L355.5 454.4 L356.0 455.3 L356.5 454.9 L357.0 454.6 L357.5 455.1 L358.0 454.8 L358.5 454.8 L359.0 455.3 L359.5 454.3 L360.0 454.5 L360.5 454.8 L361.0 454.8 L361.5 455.2 L362.0 454.7 L362.5 455.0 L363.0 455.3 L363.5 454.4 L364.0 454.4 L364.5 454.6 L365.0 454.7 L365.5 454.5 L366.0 454.8 L366.5 454.5 L367.0 455.0 L367.5 454.8 L368.0 454.9 L368.5 454.4 L369.0 454.2 L369.5 453.5 L370.0 453.6 L370.5 453.0 L371.0 453.8 L371.5 453.1 L372.0 453.3 L372.5 453.5 L373.0 454.5 L373.5 453.7 L374.0 454.7 L374.5 454.4 L375.0 455.1 L375.5 454.4 L376.0 454.3 L376.5 454.5 L377.0 454.3 L377.5 454.3 L378.0 454.6 L378.5 454.3 L379.0 454.7 L379.5 454.6 L380.0 454.7 L380.5 454.8 L381.0 454.7 L381.5 454.1 L382.0 454.8 L382.5 453.7 L383.0 454.7 L383.5 454.7 L384.0 454.1 L384.5 454.7 L385.0 453.9 L385.5 454.7 L386.0 454.3 L386.5 454.3 L387.0 454.3 L387.5 454.1 L388.0 454.3 L388.5 453.8 L389.0 453.4 L389.5 453.0 L390.0 452.4 L390.5 451.6 L391.0 451.5 L391.5 451.0 L392.0 449.8 L392.5 449.8 L393.0 449.4 L393.5 448.6 L394.0 448.5 L394.5 447.2 L395.0 447.8 L395.5 447.1 L396.0 447.3 L396.5 447.0 L397.0 448.4 L397.5 448.5 L398.0 449.9 L398.5 450.5 L399.0 452.1 L399.5 453.3 L400.0 453.9 L400.5 454.2 L401.0 454.8 L401.5 454.0 L402.0 454.4 L402.5 454.3 L403.0 454.3 L403.5 454.6 L404.0 454.5 L404.5 454.3 L405.0 454.6 L405.5 454.4 L406.0 454.5 L406.5 454.7 L407.0 454.5 L407.5 454.4 L408.0 454.2 L408.5 454.8 L409.0 454.7 L409.5 454.5 L410.0 454.5 L410.5 454.2 L411.0 454.4 L411.5 454.5 L412.0 454.1 L412.5 454.1 L413.0 454.4 L413.5 454.9 L414.0 454.5 L414.5 454.0 L415.0 454.7 L415.5 454.6 L416.0 454.6 L416.5 454.2 L417.0 454.4 L417.5 455.0 L418.0 454.7 L418.5 455.6 L419.0 453.5 L419.5 453.4 L420.0 453.5 L420.5 453.2 L421.0 453.1 L421.5 453.4 L422.0 453.6 L422.5 453.0 L423.0 453.7 L423.5 454.0 L424.0 454.0 L424.5 454.4 L425.0 454.5 L425.5 454.1 L426.0 454.4 L426.5 454.4 L427.0 454.1 L427.5 454.3 L428.0 454.7 L428.5 454.5 L429.0 454.4 L429.5 455.1 L430.0 454.6 L430.5 454.7 L431.0 454.2 L431.5 454.7 L432.0 454.3 L432.5 454.3 L433.0 454.2 L433.5 454.0 L434.0 454.5 L434.5 454.0 L435.0 454.6 L435.5 454.1 L436.0 454.7 L436.5 454.4 L437.0 454.6 L437.5 454.0 L438.0 454.3 L438.5 454.1 L439.0 453.7 L439.5 453.2 L440.0 452.6 L440.5 451.3 L441.0 451.8 L441.5 450.7 L442.0 450.2 L442.5 449.9 L443.0 448.5 L443.5 448.5 L444.0 448.4 L444.5 447.8 L445.0 447.4 L445.5 447.0 L446.0 447.1 L446.5 446.5 L447.0 446.9 L447.5 447.8 L448.0 448.3 L448.5 449.6 L449.0 450.8 L449.5 451.7 L450.0 452.5 L450.5 453.5 L451.0 453.9 L451.5 453.8 L452.0 454.1 L452.5 454.1 L453.0 454.2 L453.5 454.1 L454.0 453.7 L454.5 454.4 L455.0 454.1 L455.5 454.2 L456.0 453.7 L456.5 454.3 L457.0 454.6 L457.5 454.1 L458.0 454.3 L458.5 453.8 L459.0 454.0 L459.5 453.9 L460.0 454.1 L460.5 454.0 L461.0 454.0 L461.5 453.7 L462.0 453.6 L462.5 453.9 L463.0 454.6 L463.5 453.6 L464.0 454.0 L464.5 454.2 L465.0 453.7 L465.5 453.4 L466.0 454.0 L466.5 453.8 L467.0 453.6 L467.5 454.2 L468.0 454.0 L468.5 453.8 L469.0 453.4 L469.5 454.1 L470.0 453.8 L470.5 453.6 L471.0 453.6 L471.5 452.6 L472.0 452.5 L472.5 452.8 L473.0 452.7 L473.5 452.6 L474.0 452.6 L474.5 453.2 L475.0 453.2 L475.5 453.5 L476.0 453.1 L476.5 453.5 L477.0 453.7 L477.5 453.9 L478.0 453.2 L478.5 453.6 L479.0 453.5 L479.5 453.6 L480.0 453.6 L480.5 453.7 L481.0 453.8 L481.5 453.7 L482.0 453.6 L482.5 453.8 L483.0 454.0 L483.5 453.7 L484.0 453.4 L484.5 454.2 L485.0 453.9 L485.5 454.3 L486.0 453.6 L486.5 453.6 L487.0 453.7 L487.5 453.7 L488.0 453.4 L488.5 454.0 L489.0 453.3 L489.5 452.9 L490.0 453.4 L490.5 452.8 L491.0 452.8 L491.5 451.9 L492.0 451.4 L492.5 450.6 L493.0 450.3 L493.5 450.0 L494.0 450.1 L494.5 449.1 L495.0 448.3 L495.5 448.4 L496.0 447.7 L496.5 446.8 L497.0 446.6 L497.5 446.5 L498.0 446.7 L498.5 447.1 L499.0 447.6 L499.5 448.6 L500.0 449.7 L500.5 451.2 L501.0 452.6 L501.5 453.1 L502.0 454.4 L502.5 454.0 L503.0 454.2 L503.5 454.7 L504.0 454.5 L504.5 454.3 L505.0 453.8 L505.5 454.4 L506.0 454.3 L506.5 454.3 L507.0 454.7 L507.5 454.2 L508.0 454.9 L508.5 454.4 L509.0 454.5 L509.5 454.4 L510.0 454.5 L510.5 454.9 L511.0 454.6 L511.5 454.3 L512.0 454.3 L512.5 454.9 L513.0 454.7 L513.5 454.4 L514.0 454.6 L514.5 454.7 L515.0 454.8 L515.5 454.4 L516.0 454.7 L516.5 454.3 L517.0 454.5 L517.5 454.7 L518.0 455.1 L518.5 454.7 L519.0 455.2 L519.5 454.6 L520.0 454.7 L520.5 454.1 L521.0 453.5 L521.5 453.2 L522.0 453.6 L522.5 454.2 L523.0 453.7 L523.5 453.8 L524.0 454.3 L524.5 454.2 L525.0 454.4 L525.5 454.8 L526.0 455.0 L526.5 454.8 L527.0 454.8 L527.5 455.5 L528.0 454.8 L528.5 454.8 L529.0 455.0 L529.5 455.1 L530.0 455.2 L530.5 455.6 L531.0 455.5 L531.5 455.2 L532.0 455.2 L532.5 455.5 L533.0 455.2 L533.5 455.2 L534.0 454.9 L534.5 455.3 L535.0 455.2 L535.5 454.8 L536.0 455.2 L536.5 455.8 L537.0 455.3 L537.5 454.9 L538.0 455.5 L538.5 455.2 L539.0 455.0 L539.5 455.1 L540.0 454.6 L540.5 454.5 L541.0 453.2 L541.5 452.7 L542.0 452.3 L542.5 451.7 L543.0 450.8 L543.5 450.6 L544.0 449.6 L544.5 449.3 L545.0 448.9 L545.5 448.6 L546.0 448.4 L546.5 447.8 L547.0 448.0 L547.5 448.0 L548.0 448.2 L548.5 448.9 L549.0 449.7 L549.5 451.6 L550.0 452.7 L550.5 453.5 L551.0 454.7 L551.5 454.7 L552.0 454.9 L552.5 454.9 L553.0 455.1 L553.5 454.9 L554.0 454.8 L554.5 454.6 L555.0 454.7 L555.5 455.3 L556.0 455.1 L556.5 454.6 L557.0 455.5 L557.5 454.8 L558.0 454.8 L558.5 454.9 L559.0 455.0 L559.5 454.9 L560.0 454.9 L560.5 455.2 L561.0 455.2 L561.5 454.8 L562.0 454.9 L562.5 454.7 L563.0 454.8 L563.5 454.9 L564.0 454.8 L564.5 455.1 L565.0 454.7 L565.5 455.0 L566.0 454.7 L566.5 454.3 L567.0 454.1 L567.5 454.1 L568.0 453.7 L568.5 453.6 L569.0 453.8 L569.5 453.1 L570.0 454.1 L570.5 454.2 L571.0 454.5 L571.5 454.1 L572.0 454.5 L572.5 454.9 L573.0 454.9 L573.5 454.6 L574.0 454.7 L574.5 455.3 L575.0 454.9 L575.5 455.2 L576.0 454.4 L576.5 454.9 L577.0 454.7 L577.5 454.7 L578.0 455.2 L578.5 454.5 L579.0 454.5 L579.5 454.5 L580.0 454.6 L580.5 454.7 L581.0 454.7 L581.5 454.9 L582.0 454.7 L582.5 455.0 L583.0 454.8 L583.5 454.6 L584.0 454.4 L584.5 454.8 L585.0 454.2 L585.5 454.3 L586.0 453.7 L586.5 453.2 L587.0 453.0 L587.5 452.5 L588.0 451.8 L588.5 451.4 L589.0 450.6 L589.5 449.7 L590.0 449.3 L590.5 449.2 L591.0 447.9 L591.5 447.2 L592.0 447.4 L592.5 446.8 L593.0 447.2 L593.5 446.8 L594.0 446.5 L594.5 447.2 L595.0 447.8 L595.5 449.2 L596.0 450.6 L596.5 451.8 L597.0 452.8 L597.5 453.3 L598.0 454.0 L598.5 453.8 L599.0 453.3 L599.5 454.0 L600.0 453.3 L600.5 453.4 L601.0 453.1 L601.5 453.2 L602.0 452.9 L602.5 453.1 L603.0 453.2 L603.5 453.0 L604.0 453.2 L604.5 453.5 L605.0 453.2 L605.5 453.4 L606.0 453.5 L606.5 453.0 L607.0 453.6 L607.5 453.1 L608.0 452.7 L608.5 452.6 L609.0 452.6 L609.5 451.7 L610.0 452.1 L610.5 451.6 L611.0 451.8 L611.5 451.6 L612.0 451.3 L612.5 452.5 L613.0 452.6 L613.5 452.2 L614.0 452.3 L614.5 452.3 L615.0 452.6 L615.5 453.2 L616.0 452.6 L616.5 452.1 L617.0 452.8 L617.5 452.3 L618.0 452.1 L618.5 452.6 L619.0 452.5 L619.5 452.5 L620.0 452.6 L620.5 452.7 L621.0 451.9 L621.5 452.6 L622.0 452.9 L622.5 453.0 L623.0 452.4 L623.5 452.3 L624.0 452.5 L624.5 453.0 L625.0 452.9 L625.5 453.3 L626.0 453.0 L626.5 452.8 L627.0 452.8 L627.5 452.8 L628.0 452.9 L628.5 452.7 L629.0 451.7 L629.5 451.6 L630.0 451.0 L630.5 450.1 L631.0 449.6 L631.5 449.8 L632.0 448.8 L632.5 448.4 L633.0 448.1 L633.5 447.8 L634.0 447.6 L634.5 447.0 L635.0 447.0 L635.5 447.1 L636.0 447.4 L636.5 447.7 L637.0 448.4 L637.5 450.3 L638.0 451.6 L638.5 452.9 L639.0 453.7 L639.5 454.0 L640.0 454.7 L640.5 455.5 L641.0 455.0 L641.5 455.1 L642.0 454.6 L642.5 455.0 L643.0 455.5 L643.5 455.4 L644.0 455.3 L644.5 455.7 L645.0 455.7 L645.5 455.7 L646.0 455.5 L646.5 455.8 L647.0 456.0 L647.5 455.9 L648.0 455.5 L648.5 455.8 L649.0 455.9 L649.5 455.8 L650.0 456.0 L650.5 455.5 L651.0 455.2 L651.5 455.4 L652.0 455.3 L652.5 455.0 L653.0 455.4 L653.5 455.5 L654.0 455.8 L654.5 455.6 L655.0 455.7 L655.5 456.1 L656.0 456.2 L656.5 457.1 L657.0 457.2 L657.5 456.6 L658.0 457.5 L658.5 456.8 L659.0 457.0 L659.5 457.9 L660.0 457.0 L660.5 457.6 L661.0 457.7 L661.5 457.8 L662.0 457.7 L662.5 457.7 L663.0 458.0 L663.5 457.6 L664.0 457.6 L664.5 457.7 L665.0 457.5 L665.5 457.6 L666.0 458.0 L666.5 458.1 L667.0 457.8 L667.5 457.6 L668.0 457.5 L668.5 457.5 L669.0 457.4 L669.5 457.1 L670.0 456.9 L670.5 456.5 L671.0 456.4 L671.5 455.1 L672.0 454.9 L672.5 454.6 L673.0 453.7 L673.5 453.1 L674.0 452.8 L674.5 452.1 L675.0 451.4 L675.5 451.3 L676.0 451.1 L676.5 450.3 L677.0 450.8 L677.5 450.1 L678.0 451.0 L678.5 451.0 L679.0 452.4 L679.5 453.5 L680.0 455.1 L680.5 456.0 L681.0 456.8 L681.5 457.4 L682.0 457.9 L682.5 457.7 L683.0 458.0 L683.5 457.9 L684.0 458.2 L684.5 458.0 L685.0 457.9 L685.5 457.8 L686.0 458.0 L686.5 458.1 L687.0 457.5 L687.5 458.0 L688.0 457.8 L688.5 457.9 L689.0 458.1 L689.5 457.3 L690.0 457.8 L690.5 458.2 L691.0 457.0 L691.5 457.4 L692.0 457.1 L692.5 456.8 L693.0 457.0 L693.5 457.0 L694.0 456.7 L694.5 457.3 L695.0 457.5 L695.5 457.3 L696.0 457.7 L696.5 457.9 L697.0 458.2 L697.5 458.1 L698.0 458.1 L698.5 458.0 L699.0 458.2 L699.5 458.4 L700.0 458.0 L700.5 457.9 L701.0 457.7 L701.5 458.7 L702.0 457.9 L702.5 457.9 L703.0 457.8 L703.5 458.3 L704.0 458.1 L704.5 457.4 L705.0 458.0 L705.5 458.5 L706.0 458.0 L706.5 458.0 L707.0 458.8 L707.5 457.9 L708.0 457.9 L708.5 458.2 L709.0 458.7 L709.5 458.1 L710.0 457.4 L710.5 457.6 L711.0 457.3 L711.5 457.1 L712.0 456.4 L712.5 456.0 L713.0 455.1 L713.5 454.5 L714.0 454.2 L714.5 454.1" stroke="#ff5511" stroke-width="2.4"/>
<path d="M123.8 456.9 L124.9 432.4 L125.3 432.4 L126.3 458.4 L127.3 456.4 M172.4 457.6 L173.5 433.6 L173.9 433.6 L174.9 459.1 L175.9 457.1 M221.4 456.9 L222.5 432.4 L222.9 432.4 L223.9 458.4 L224.9 456.4 M273.0 456.1 L274.1 431.6 L274.5 431.6 L275.5 457.6 L276.5 455.6 M327.8 456.1 L328.9 431.1 L329.3 431.1 L330.3 457.6 L331.3 455.6 M379.0 454.9 L380.1 429.9 L380.5 429.9 L381.5 456.4 L382.5 454.4 M429.4 454.9 L430.5 429.9 L430.9 429.9 L431.9 456.4 L432.9 454.4 M480.8 454.1 L481.9 429.6 L482.3 429.6 L483.3 455.6 L484.3 453.6 M530.2 455.7 L531.3 430.7 L531.7 430.7 L532.7 457.2 L533.7 455.2 M576.5 455.3 L577.6 430.3 L578.0 430.3 L579.0 456.8 L580.0 454.8 M618.4 452.9 L619.5 427.9 L619.9 427.9 L620.9 454.4 L621.9 452.4 M660.3 458.0 L661.4 433.5 L661.8 433.5 L662.8 459.5 L663.8 457.5 M701.4 458.5 L702.5 434.0 L702.9 434.0 L703.9 460.0 L704.9 458.0" stroke="#ff5511" stroke-width="1.9" fill="#ff5511"/>
<path d="M124.0 510.7 L124.5 510.5 L125.0 511.4 L125.5 511.1 L126.0 511.2 L126.5 509.9 L127.0 509.9 L127.5 509.6 L128.0 509.3 L128.5 509.5 L129.0 508.5 L129.5 508.1 L130.0 507.8 L130.5 507.2 L131.0 507.3 L131.5 506.2 L132.0 505.8 L132.5 504.8 L133.0 504.8 L133.5 504.3 L134.0 503.8 L134.5 502.7 L135.0 502.5 L135.5 501.5 L136.0 502.3 L136.5 501.4 L137.0 501.6 L137.5 501.4 L138.0 500.9 L138.5 500.3 L139.0 500.3 L139.5 500.5 L140.0 499.6 L140.5 501.1 L141.0 502.4 L141.5 504.2 L142.0 506.0 L142.5 508.1 L143.0 508.8 L143.5 508.4 L144.0 508.6 L144.5 508.5 L145.0 509.3 L145.5 508.9 L146.0 508.1 L146.5 509.2 L147.0 509.1 L147.5 508.9 L148.0 508.8 L148.5 509.6 L149.0 509.1 L149.5 509.1 L150.0 508.6 L150.5 509.0 L151.0 509.4 L151.5 509.2 L152.0 509.1 L152.5 509.2 L153.0 508.8 L153.5 508.6 L154.0 509.5 L154.5 509.0 L155.0 509.0 L155.5 509.5 L156.0 509.8 L156.5 509.4 L157.0 509.9 L157.5 509.6 L158.0 508.7 L158.5 510.1 L159.0 509.4 L159.5 510.2 L160.0 509.7 L160.5 509.8 L161.0 509.7 L161.5 509.5 L162.0 510.9 L162.5 511.2 L163.0 511.1 L163.5 510.5 L164.0 510.9 L164.5 511.0 L165.0 510.9 L165.5 510.3 L166.0 511.3 L166.5 510.5 L167.0 510.4 L167.5 510.7 L168.0 510.7 L168.5 510.5 L169.0 510.3 L169.5 510.3 L170.0 510.7 L170.5 510.1 L171.0 511.0 L171.5 510.8 L172.0 510.7 L172.5 510.7 L173.0 510.4 L173.5 510.5 L174.0 510.9 L174.5 510.5 L175.0 511.1 L175.5 509.7 L176.0 509.5 L176.5 508.9 L177.0 508.4 L177.5 508.3 L178.0 507.6 L178.5 507.4 L179.0 506.9 L179.5 506.4 L180.0 506.4 L180.5 505.2 L181.0 504.8 L181.5 504.8 L182.0 504.0 L182.5 503.6 L183.0 502.8 L183.5 502.6 L184.0 502.5 L184.5 501.7 L185.0 501.4 L185.5 501.3 L186.0 500.9 L186.5 500.8 L187.0 499.9 L187.5 499.6 L188.0 499.7 L188.5 500.1 L189.0 500.1 L189.5 500.9 L190.0 503.9 L190.5 505.9 L191.0 507.3 L191.5 508.8 L192.0 509.4 L192.5 508.8 L193.0 508.8 L193.5 508.7 L194.0 509.1 L194.5 508.5 L195.0 508.4 L195.5 508.8 L196.0 508.8 L196.5 508.9 L197.0 509.1 L197.5 508.5 L198.0 509.5 L198.5 508.5 L199.0 509.2 L199.5 509.2 L200.0 509.4 L200.5 509.3 L201.0 509.0 L201.5 509.2 L202.0 508.9 L202.5 509.3 L203.0 509.4 L203.5 508.9 L204.0 510.2 L204.5 509.4 L205.0 509.7 L205.5 510.0 L206.0 509.7 L206.5 509.6 L207.0 509.4 L207.5 509.6 L208.0 509.6 L208.5 509.8 L209.0 510.1 L209.5 510.0 L210.0 510.4 L210.5 510.1 L211.0 511.0 L211.5 510.0 L212.0 510.9 L212.5 511.0 L213.0 510.5 L213.5 510.9 L214.0 510.7 L214.5 510.9 L215.0 510.9 L215.5 510.9 L216.0 510.9 L216.5 511.1 L217.0 511.0 L217.5 510.8 L218.0 511.2 L218.5 511.0 L219.0 511.1 L219.5 511.5 L220.0 511.5 L220.5 511.6 L221.0 510.9 L221.5 511.1 L222.0 511.1 L222.5 511.0 L223.0 511.0 L223.5 511.3 L224.0 511.3 L224.5 510.5 L225.0 509.5 L225.5 509.5 L226.0 508.9 L226.5 508.6 L227.0 507.6 L227.5 508.5 L228.0 506.9 L228.5 506.9 L229.0 505.8 L229.5 505.8 L230.0 505.0 L230.5 504.2 L231.0 504.0 L231.5 503.7 L232.0 503.3 L232.5 502.2 L233.0 502.6 L233.5 501.9 L234.0 501.3 L234.5 501.7 L235.0 500.8 L235.5 500.8 L236.0 501.0 L236.5 500.5 L237.0 500.3 L237.5 500.6 L238.0 500.5 L238.5 501.8 L239.0 503.6 L239.5 505.6 L240.0 508.0 L240.5 509.3 L241.0 510.3 L241.5 509.0 L242.0 508.4 L242.5 509.0 L243.0 508.8 L243.5 508.9 L244.0 509.3 L244.5 509.2 L245.0 508.6 L245.5 509.7 L246.0 509.1 L246.5 508.7 L247.0 509.1 L247.5 509.4 L248.0 508.9 L248.5 509.0 L249.0 508.8 L249.5 509.4 L250.0 509.2 L250.5 509.9 L251.0 509.5 L251.5 509.6 L252.0 509.3 L252.5 509.9 L253.0 509.2 L253.5 509.7 L254.0 509.8 L254.5 509.5 L255.0 509.4 L255.5 510.1 L256.0 510.3 L256.5 509.9 L257.0 510.4 L257.5 510.0 L258.0 509.9 L258.5 509.8 L259.0 509.6 L259.5 510.3 L260.0 509.9 L260.5 509.9 L261.0 510.2 L261.5 510.3 L262.0 510.0 L262.5 511.1 L263.0 511.0 L263.5 511.0 L264.0 511.0 L264.5 510.9 L265.0 510.3 L265.5 510.8 L266.0 511.4 L266.5 510.9 L267.0 511.1 L267.5 511.2 L268.0 510.7 L268.5 511.0 L269.0 510.9 L269.5 511.1 L270.0 511.2 L270.5 511.0 L271.0 510.9 L271.5 511.3 L272.0 511.0 L272.5 510.6 L273.0 511.4 L273.5 511.1 L274.0 510.8 L274.5 511.0 L275.0 510.7 L275.5 511.0 L276.0 509.4 L276.5 510.0 L277.0 509.6 L277.5 508.9 L278.0 508.9 L278.5 508.0 L279.0 507.8 L279.5 507.2 L280.0 507.2 L280.5 506.7 L281.0 505.6 L281.5 505.5 L282.0 505.1 L282.5 504.3 L283.0 504.6 L283.5 502.9 L284.0 503.3 L284.5 502.9 L285.0 502.0 L285.5 501.3 L286.0 501.7 L286.5 500.3 L287.0 500.8 L287.5 500.2 L288.0 500.4 L288.5 500.2 L289.0 499.9 L289.5 500.6 L290.0 501.8 L290.5 502.8 L291.0 505.5 L291.5 507.4 L292.0 508.8 L292.5 509.7 L293.0 509.0 L293.5 509.2 L294.0 508.8 L294.5 508.2 L295.0 509.2 L295.5 509.1 L296.0 508.4 L296.5 508.9 L297.0 509.1 L297.5 509.0 L298.0 509.2 L298.5 508.9 L299.0 509.4 L299.5 508.4 L300.0 509.3 L300.5 509.1 L301.0 509.3 L301.5 509.5 L302.0 509.8 L302.5 509.1 L303.0 509.4 L303.5 509.1 L304.0 509.5 L304.5 509.3 L305.0 509.2 L305.5 509.9 L306.0 509.7 L306.5 509.6 L307.0 510.1 L307.5 509.2 L308.0 509.8 L308.5 510.2 L309.0 509.7 L309.5 509.6 L310.0 509.6 L310.5 510.2 L311.0 510.2 L311.5 510.0 L312.0 510.2 L312.5 509.8 L313.0 509.9 L313.5 510.3 L314.0 509.8 L314.5 510.2 L315.0 510.1 L315.5 509.9 L316.0 510.3 L316.5 509.9 L317.0 510.8 L317.5 510.4 L318.0 510.6 L318.5 510.7 L319.0 511.1 L319.5 511.0 L320.0 510.6 L320.5 510.9 L321.0 511.7 L321.5 511.0 L322.0 511.1 L322.5 510.4 L323.0 510.8 L323.5 511.3 L324.0 510.6 L324.5 510.7 L325.0 510.8 L325.5 511.0 L326.0 511.2 L326.5 510.5 L327.0 511.2 L327.5 510.2 L328.0 510.7 L328.5 511.1 L329.0 510.6 L329.5 510.7 L330.0 510.8 L330.5 510.4 L331.0 509.5 L331.5 509.9 L332.0 509.9 L332.5 508.9 L333.0 508.4 L333.5 508.3 L334.0 507.5 L334.5 507.2 L335.0 506.5 L335.5 505.9 L336.0 505.3 L336.5 505.6 L337.0 504.6 L337.5 503.9 L338.0 504.1 L338.5 503.2 L339.0 502.7 L339.5 502.2 L340.0 502.0 L340.5 501.6 L341.0 501.2 L341.5 501.1 L342.0 501.1 L342.5 500.7 L343.0 501.0 L343.5 500.8 L344.0 500.2 L344.5 500.7 L345.0 501.9 L345.5 504.0 L346.0 506.6 L346.5 508.2 L347.0 509.5 L347.5 509.1 L348.0 508.4 L348.5 509.2 L349.0 509.1 L349.5 509.4 L350.0 509.2 L350.5 509.6 L351.0 509.7 L351.5 509.3 L352.0 509.6 L352.5 509.2 L353.0 509.3 L353.5 509.2 L354.0 509.5 L354.5 509.3 L355.0 509.3 L355.5 509.6 L356.0 509.3 L356.5 510.0 L357.0 509.6 L357.5 509.8 L358.0 509.8 L358.5 510.3 L359.0 510.2 L359.5 510.0 L360.0 509.9 L360.5 510.4 L361.0 510.1 L361.5 509.9 L362.0 510.3 L362.5 510.5 L363.0 510.3 L363.5 510.4 L364.0 510.9 L364.5 510.3 L365.0 510.7 L365.5 511.0 L366.0 511.1 L366.5 510.3 L367.0 510.8 L367.5 510.7 L368.0 511.5 L368.5 512.0 L369.0 511.9 L369.5 512.0 L370.0 511.8 L370.5 511.3 L371.0 512.3 L371.5 511.1 L372.0 511.9 L372.5 511.9 L373.0 511.7 L373.5 512.0 L374.0 511.7 L374.5 511.9 L375.0 511.8 L375.5 511.5 L376.0 512.0 L376.5 511.5 L377.0 511.9 L377.5 511.4 L378.0 511.8 L378.5 511.9 L379.0 512.1 L379.5 511.4 L380.0 511.6 L380.5 511.8 L381.0 511.5 L381.5 512.0 L382.0 511.4 L382.5 510.7 L383.0 510.4 L383.5 509.7 L384.0 509.7 L384.5 509.3 L385.0 509.3 L385.5 508.2 L386.0 508.1 L386.5 507.1 L387.0 506.6 L387.5 506.1 L388.0 505.8 L388.5 504.7 L389.0 504.5 L389.5 504.6 L390.0 503.1 L390.5 503.5 L391.0 503.1 L391.5 502.3 L392.0 501.9 L392.5 502.2 L393.0 501.5 L393.5 501.5 L394.0 501.1 L394.5 500.8 L395.0 501.4 L395.5 501.4 L396.0 502.0 L396.5 504.3 L397.0 505.7 L397.5 507.7 L398.0 510.0 L398.5 510.4 L399.0 509.6 L399.5 510.1 L400.0 509.3 L400.5 509.9 L401.0 509.6 L401.5 509.8 L402.0 509.7 L402.5 509.6 L403.0 509.9 L403.5 509.6 L404.0 509.9 L404.5 509.6 L405.0 509.9 L405.5 510.0 L406.0 509.6 L406.5 510.1 L407.0 510.3 L407.5 510.2 L408.0 510.5 L408.5 509.9 L409.0 510.4 L409.5 510.4 L410.0 509.5 L410.5 510.3 L411.0 510.6 L411.5 510.4 L412.0 510.5 L412.5 510.4 L413.0 510.5 L413.5 510.2 L414.0 510.4 L414.5 509.9 L415.0 511.3 L415.5 510.7 L416.0 510.8 L416.5 510.9 L417.0 510.9 L417.5 510.8 L418.0 510.4 L418.5 510.5 L419.0 512.2 L419.5 511.8 L420.0 511.9 L420.5 511.4 L421.0 511.6 L421.5 511.8 L422.0 511.5 L422.5 512.1 L423.0 511.5 L423.5 511.6 L424.0 511.4 L424.5 511.8 L425.0 512.1 L425.5 511.8 L426.0 511.7 L426.5 511.6 L427.0 511.9 L427.5 511.7 L428.0 512.2 L428.5 511.6 L429.0 511.6 L429.5 511.5 L430.0 511.1 L430.5 511.8 L431.0 511.7 L431.5 511.2 L432.0 511.3 L432.5 510.2 L433.0 510.2 L433.5 509.8 L434.0 510.0 L434.5 509.8 L435.0 508.8 L435.5 508.6 L436.0 507.8 L436.5 508.0 L437.0 506.7 L437.5 506.3 L438.0 506.0 L438.5 505.2 L439.0 505.8 L439.5 504.4 L440.0 503.9 L440.5 503.2 L441.0 503.0 L441.5 502.5 L442.0 502.2 L442.5 502.3 L443.0 501.5 L443.5 501.6 L444.0 501.1 L444.5 501.4 L445.0 500.8 L445.5 500.7 L446.0 501.2 L446.5 502.8 L447.0 504.2 L447.5 506.2 L448.0 508.4 L448.5 509.7 L449.0 510.6 L449.5 509.3 L450.0 509.6 L450.5 509.8 L451.0 509.8 L451.5 510.1 L452.0 509.8 L452.5 510.3 L453.0 510.1 L453.5 509.7 L454.0 510.0 L454.5 509.6 L455.0 509.8 L455.5 509.9 L456.0 509.7 L456.5 510.1 L457.0 510.0 L457.5 510.6 L458.0 510.3 L458.5 510.0 L459.0 509.9 L459.5 510.0 L460.0 510.0 L460.5 510.0 L461.0 510.3 L461.5 509.9 L462.0 510.3 L462.5 510.5 L463.0 510.2 L463.5 510.1 L464.0 510.3 L464.5 510.8 L465.0 510.3 L465.5 511.0 L466.0 510.1 L466.5 510.4 L467.0 510.9 L467.5 511.1 L468.0 510.7 L468.5 510.3 L469.0 510.7 L469.5 510.6 L470.0 511.5 L470.5 511.6 L471.0 511.5 L471.5 511.7 L472.0 511.7 L472.5 511.6 L473.0 511.2 L473.5 511.6 L474.0 510.9 L474.5 511.7 L475.0 511.6 L475.5 511.4 L476.0 512.3 L476.5 512.2 L477.0 512.1 L477.5 511.7 L478.0 511.5 L478.5 511.8 L479.0 512.2 L479.5 511.7 L480.0 511.6 L480.5 511.5 L481.0 511.7 L481.5 511.9 L482.0 511.4 L482.5 512.0 L483.0 511.7 L483.5 511.3 L484.0 510.6 L484.5 510.7 L485.0 509.8 L485.5 510.5 L486.0 509.4 L486.5 508.9 L487.0 509.0 L487.5 508.1 L488.0 507.2 L488.5 507.2 L489.0 506.7 L489.5 506.0 L490.0 505.3 L490.5 504.5 L491.0 505.0 L491.5 503.9 L492.0 503.7 L492.5 503.0 L493.0 502.5 L493.5 502.5 L494.0 501.8 L494.5 502.1 L495.0 501.1 L495.5 501.6 L496.0 501.6 L496.5 501.1 L497.0 501.3 L497.5 501.9 L498.0 502.9 L498.5 504.9 L499.0 507.1 L499.5 509.9 L500.0 510.1 L500.5 509.7 L501.0 509.7 L501.5 509.7 L502.0 509.6 L502.5 509.7 L503.0 510.0 L503.5 510.4 L504.0 510.6 L504.5 509.7 L505.0 509.9 L505.5 510.2 L506.0 510.0 L506.5 510.1 L507.0 510.3 L507.5 510.2 L508.0 510.2 L508.5 510.5 L509.0 510.3 L509.5 510.5 L510.0 510.7 L510.5 510.8 L511.0 510.7 L511.5 511.0 L512.0 510.8 L512.5 510.4 L513.0 511.3 L513.5 511.7 L514.0 511.2 L514.5 511.5 L515.0 511.4 L515.5 510.9 L516.0 511.3 L516.5 511.0 L517.0 511.0 L517.5 511.4 L518.0 511.3 L518.5 511.1 L519.0 511.0 L519.5 512.5 L520.0 512.3 L520.5 512.3 L521.0 512.0 L521.5 512.1 L522.0 512.3 L522.5 511.8 L523.0 512.7 L523.5 512.3 L524.0 512.7 L524.5 512.6 L525.0 512.2 L525.5 512.5 L526.0 512.0 L526.5 512.1 L527.0 512.8 L527.5 512.2 L528.0 512.2 L528.5 512.6 L529.0 512.4 L529.5 512.7 L530.0 512.1 L530.5 512.4 L531.0 512.1 L531.5 512.5 L532.0 512.4 L532.5 512.2 L533.0 510.9 L533.5 510.9 L534.0 511.3 L534.5 510.7 L535.0 510.1 L535.5 510.1 L536.0 509.3 L536.5 509.5 L537.0 509.0 L537.5 508.3 L538.0 507.6 L538.5 506.7 L539.0 506.8 L539.5 506.8 L540.0 505.7 L540.5 505.0 L541.0 505.0 L541.5 504.2 L542.0 503.5 L542.5 503.4 L543.0 503.3 L543.5 502.3 L544.0 502.9 L544.5 502.8 L545.0 502.2 L545.5 501.9 L546.0 501.6 L546.5 502.2 L547.0 502.6 L547.5 504.6 L548.0 506.7 L548.5 508.7 L549.0 510.2 L549.5 510.8 L550.0 511.0 L550.5 510.5 L551.0 510.5 L551.5 511.1 L552.0 510.9 L552.5 510.5 L553.0 510.8 L553.5 510.8 L554.0 510.9 L554.5 510.7 L555.0 511.5 L555.5 511.1 L556.0 511.4 L556.5 511.5 L557.0 511.9 L557.5 511.5 L558.0 511.1 L558.5 511.3 L559.0 511.7 L559.5 512.0 L560.0 511.1 L560.5 512.2 L561.0 511.5 L561.5 511.6 L562.0 511.6 L562.5 512.0 L563.0 511.8 L563.5 511.9 L564.0 511.7 L564.5 512.4 L565.0 512.1 L565.5 512.1 L566.0 513.7 L566.5 513.3 L567.0 513.5 L567.5 513.0 L568.0 513.1 L568.5 513.1 L569.0 513.4 L569.5 513.2 L570.0 512.6 L570.5 513.3 L571.0 513.1 L571.5 513.2 L572.0 513.5 L572.5 513.1 L573.0 513.4 L573.5 513.2 L574.0 513.2 L574.5 513.1 L575.0 513.2 L575.5 513.1 L576.0 513.5 L576.5 512.6 L577.0 513.4 L577.5 513.2 L578.0 513.0 L578.5 513.5 L579.0 513.3 L579.5 512.3 L580.0 512.5 L580.5 511.9 L581.0 511.1 L581.5 510.8 L582.0 510.9 L582.5 510.2 L583.0 510.8 L583.5 509.7 L584.0 508.7 L584.5 508.1 L585.0 508.1 L585.5 507.1 L586.0 507.5 L586.5 506.2 L587.0 506.7 L587.5 505.8 L588.0 505.9 L588.5 504.9 L589.0 504.8 L589.5 504.9 L590.0 503.9 L590.5 504.4 L591.0 504.4 L591.5 503.6 L592.0 503.8 L592.5 504.4 L593.0 504.5 L593.5 505.6 L594.0 506.9 L594.5 508.9 L595.0 511.1 L595.5 512.7 L596.0 514.0 L596.5 513.0 L597.0 513.0 L597.5 512.7 L598.0 513.3 L598.5 513.3 L599.0 513.3 L599.5 513.7 L600.0 513.3 L600.5 513.6 L601.0 513.9 L601.5 513.5 L602.0 514.1 L602.5 514.1 L603.0 514.4 L603.5 514.5 L604.0 514.0 L604.5 514.8 L605.0 514.2 L605.5 514.1 L606.0 514.5 L606.5 514.5 L607.0 514.5 L607.5 515.1 L608.0 516.2 L608.5 516.3 L609.0 515.7 L609.5 516.7 L610.0 516.4 L610.5 516.6 L611.0 516.4 L611.5 516.5 L612.0 516.6 L612.5 516.5 L613.0 516.9 L613.5 516.4 L614.0 516.0 L614.5 516.5 L615.0 516.7 L615.5 516.9 L616.0 516.8 L616.5 517.0 L617.0 517.0 L617.5 516.9 L618.0 517.1 L618.5 517.2 L619.0 516.8 L619.5 516.6 L620.0 517.2 L620.5 517.4 L621.0 517.6 L621.5 516.5 L622.0 516.0 L622.5 516.0 L623.0 515.2 L623.5 514.8 L624.0 515.0 L624.5 513.8 L625.0 513.6 L625.5 512.8 L626.0 512.2 L626.5 512.7 L627.0 511.0 L627.5 511.5 L628.0 510.3 L628.5 509.7 L629.0 509.0 L629.5 509.0 L630.0 508.7 L630.5 508.3 L631.0 507.5 L631.5 507.9 L632.0 507.2 L632.5 507.0 L633.0 506.8 L633.5 506.7 L634.0 506.3 L634.5 506.5 L635.0 506.4 L635.5 507.9 L636.0 509.4 L636.5 511.3 L637.0 513.6 L637.5 515.2 L638.0 515.7 L638.5 514.7 L639.0 514.7 L639.5 514.9 L640.0 515.4 L640.5 515.1 L641.0 515.3 L641.5 515.3 L642.0 515.3 L642.5 515.2 L643.0 515.4 L643.5 515.5 L644.0 515.2 L644.5 515.2 L645.0 515.3 L645.5 515.3 L646.0 515.5 L646.5 515.3 L647.0 515.3 L647.5 515.6 L648.0 515.7 L648.5 515.5 L649.0 515.2 L649.5 516.7 L650.0 517.0 L650.5 516.7 L651.0 517.1 L651.5 516.6 L652.0 516.6 L652.5 516.9 L653.0 517.0 L653.5 516.6 L654.0 517.1 L654.5 516.7 L655.0 516.8 L655.5 517.2 L656.0 516.9 L656.5 516.6 L657.0 516.6 L657.5 516.3 L658.0 516.9 L658.5 516.7 L659.0 517.1 L659.5 516.9 L660.0 516.6 L660.5 516.4 L661.0 516.5 L661.5 516.9 L662.0 516.5 L662.5 516.9 L663.0 515.8 L663.5 515.8 L664.0 515.2 L664.5 515.1 L665.0 514.1 L665.5 514.2 L666.0 513.7 L666.5 513.5 L667.0 512.3 L667.5 512.2 L668.0 512.5 L668.5 511.3 L669.0 510.6 L669.5 510.2 L670.0 509.6 L670.5 509.1 L671.0 508.9 L671.5 508.3 L672.0 508.1 L672.5 508.2 L673.0 507.3 L673.5 506.8 L674.0 506.9 L674.5 505.8 L675.0 506.6 L675.5 505.6 L676.0 505.7 L676.5 505.8 L677.0 505.9 L677.5 507.4 L678.0 509.6 L678.5 511.8 L679.0 513.2 L679.5 514.1 L680.0 514.5 L680.5 513.9 L681.0 514.5 L681.5 514.6 L682.0 514.7 L682.5 514.4 L683.0 514.4 L683.5 515.6 L684.0 514.7 L684.5 514.4 L685.0 514.4 L685.5 514.8 L686.0 515.4 L686.5 515.1 L687.0 514.7 L687.5 514.6 L688.0 514.9 L688.5 515.1 L689.0 515.3 L689.5 515.4 L690.0 515.6 L690.5 514.9 L691.0 516.1 L691.5 516.5 L692.0 516.7 L692.5 516.3 L693.0 516.6 L693.5 516.5 L694.0 516.8 L694.5 516.4 L695.0 516.4 L695.5 516.7 L696.0 516.8 L696.5 516.3 L697.0 516.5 L697.5 516.3 L698.0 516.2 L698.5 517.2 L699.0 516.3 L699.5 516.4 L700.0 516.4 L700.5 516.3 L701.0 516.5 L701.5 516.5 L702.0 516.6 L702.5 516.3 L703.0 516.1 L703.5 516.5 L704.0 516.7 L704.5 515.7 L705.0 515.1 L705.5 514.8 L706.0 514.4 L706.5 514.7 L707.0 513.6 L707.5 513.2 L708.0 512.9 L708.5 512.3 L709.0 511.9 L709.5 511.5 L710.0 511.3 L710.5 510.5 L711.0 509.9 L711.5 508.8 L712.0 509.4 L712.5 508.5 L713.0 508.2 L713.5 507.4 L714.0 507.1 L714.5 506.7" stroke="#55ad1f" stroke-width="2.4"/>
<path d="M122.8 509.9 L123.7 503.9 L124.4 507.9 L125.3 528.4 L126.2 528.4 L126.9 508.9 M171.4 509.5 L172.3 503.5 L173.0 507.5 L173.9 528.0 L174.8 528.0 L175.5 508.5 M220.4 509.9 L221.3 503.9 L222.0 507.9 L222.9 528.4 L223.8 528.4 L224.5 508.9 M272.0 509.9 L272.9 503.9 L273.6 507.9 L274.5 528.4 L275.4 528.4 L276.1 508.9 M326.8 509.9 L327.7 503.9 L328.4 507.9 L329.3 528.4 L330.2 528.4 L330.9 508.9 M378.0 510.7 L378.9 504.7 L379.6 508.7 L380.5 529.2 L381.4 529.2 L382.1 509.7 M428.4 510.6 L429.3 504.6 L430.0 508.6 L430.9 529.1 L431.8 529.1 L432.5 509.6 M479.8 510.6 L480.7 504.6 L481.4 508.6 L482.3 529.1 L483.2 529.1 L483.9 509.6 M529.2 511.4 L530.1 505.4 L530.8 509.4 L531.7 529.9 L532.6 529.9 L533.3 510.4 M575.5 512.2 L576.4 506.2 L577.1 510.2 L578.0 530.7 L578.9 530.7 L579.6 511.2 M617.4 516.0 L618.3 510.0 L619.0 514.0 L619.9 534.5 L620.8 534.5 L621.5 515.0 M659.3 515.4 L660.2 509.4 L660.9 513.4 L661.8 533.9 L662.7 533.9 L663.4 514.4 M700.4 515.4 L701.3 509.4 L702.0 513.4 L702.9 533.9 L703.8 533.9 L704.5 514.4 M313.6 510.1 l0.5 3.0 l0.5 -3.0 M556.1 511.2 l0.5 -3.5 l0.5 3.5 M383.1 510.2 l0.5 3.0 l0.5 -3.0 M209.9 510.0 l0.5 2.5 l0.5 -2.5 M221.1 511.0 l0.5 3.0 l0.5 -3.0 M404.3 509.9 l0.5 2.5 l0.5 -2.5 M260.7 510.1 l0.5 -3.5 l0.5 3.5 M261.7 510.2 l0.5 -2.5 l0.5 2.5 M301.1 509.3 l0.5 3.0 l0.5 -3.0 M170.6 510.6 l0.5 -2.5 l0.5 2.5 M270.9 511.0 l0.5 -2.5 l0.5 2.5 M573.8 513.2 l0.5 -3.5 l0.5 3.5 M434.6 509.4 l0.5 3.0 l0.5 -3.0 M405.3 510.0 l0.5 -3.0 l0.5 3.0 M264.5 511.0 l0.5 -2.5 l0.5 2.5 M250.6 509.4 l0.5 -3.0 l0.5 3.0 M355.6 509.7 l0.5 3.0 l0.5 -3.0 M705.3 515.0 l0.5 -3.5 l0.5 3.5 M297.6 509.1 l0.5 2.5 l0.5 -2.5 M251.9 509.5 l0.5 -3.5 l0.5 3.5 M689.1 515.2 l0.5 -3.5 l0.5 3.5 M606.6 514.7 l0.5 3.0 l0.5 -3.0 M655.9 516.6 l0.5 3.0 l0.5 -3.0 M482.8 511.7 l0.5 -2.5 l0.5 2.5 M159.9 509.7 l0.5 -2.5 l0.5 2.5 M315.6 510.2 l0.5 2.5 l0.5 -2.5 M506.9 510.3 l0.5 -3.5 l0.5 3.5 M612.8 516.5 l0.5 3.0 l0.5 -3.0" stroke="#55ad1f" stroke-width="1.8" fill="#55ad1f"/>
<circle cx="125.7" cy="587.6" r="2.65" stroke="#8b2a9a" stroke-width="2.7"/>
<circle cx="175.5" cy="586.5" r="2.65" stroke="#8b2a9a" stroke-width="2.7"/>
<circle cx="224.5" cy="587.6" r="2.65" stroke="#8b2a9a" stroke-width="2.7"/>
<circle cx="276.1" cy="587.6" r="2.65" stroke="#8b2a9a" stroke-width="2.7"/>
<circle cx="330.5" cy="588.4" r="2.65" stroke="#8b2a9a" stroke-width="2.7"/>
<circle cx="381.4" cy="588.4" r="2.65" stroke="#8b2a9a" stroke-width="2.7"/>
<circle cx="432.4" cy="587.6" r="2.65" stroke="#8b2a9a" stroke-width="2.7"/>
<circle cx="484.2" cy="587.6" r="2.65" stroke="#8b2a9a" stroke-width="2.7"/>
<circle cx="533.2" cy="588" r="2.65" stroke="#8b2a9a" stroke-width="2.7"/>
<circle cx="579.5" cy="588.2" r="2.65" stroke="#8b2a9a" stroke-width="2.7"/>
<circle cx="621.8" cy="587.5" r="2.65" stroke="#8b2a9a" stroke-width="2.7"/>
<circle cx="663.7" cy="588.9" r="2.65" stroke="#8b2a9a" stroke-width="2.7"/>
<circle cx="704.9" cy="591" r="2.65" stroke="#8b2a9a" stroke-width="2.7"/>
<rect x="121.7" y="453.1" width="6.6" height="6.6" fill="#4fab22" stroke="none"/>
<circle cx="125" cy="456.4" r="0.9" fill="#ff5511" stroke="none"/>
<rect x="171.0" y="453.8" width="6.6" height="6.6" fill="#4fab22" stroke="none"/>
<circle cx="174.3" cy="457.1" r="0.9" fill="#ff5511" stroke="none"/>
<rect x="220.4" y="453.1" width="6.6" height="6.6" fill="#4fab22" stroke="none"/>
<circle cx="223.7" cy="456.4" r="0.9" fill="#ff5511" stroke="none"/>
<rect x="271.7" y="452.3" width="6.6" height="6.6" fill="#4fab22" stroke="none"/>
<circle cx="275" cy="455.6" r="0.9" fill="#ff5511" stroke="none"/>
<rect x="326.4" y="452.3" width="6.6" height="6.6" fill="#4fab22" stroke="none"/>
<circle cx="329.7" cy="455.6" r="0.9" fill="#ff5511" stroke="none"/>
<rect x="377.7" y="451.1" width="6.6" height="6.6" fill="#4fab22" stroke="none"/>
<circle cx="381" cy="454.4" r="0.9" fill="#ff5511" stroke="none"/>
<rect x="427.7" y="451.1" width="6.6" height="6.6" fill="#4fab22" stroke="none"/>
<circle cx="431" cy="454.4" r="0.9" fill="#ff5511" stroke="none"/>
<rect x="479.1" y="450.3" width="6.6" height="6.6" fill="#4fab22" stroke="none"/>
<circle cx="482.4" cy="453.6" r="0.9" fill="#ff5511" stroke="none"/>
<rect x="529.3" y="451.9" width="6.6" height="6.6" fill="#4fab22" stroke="none"/>
<circle cx="532.6" cy="455.2" r="0.9" fill="#ff5511" stroke="none"/>
<rect x="574.7" y="451.5" width="6.6" height="6.6" fill="#4fab22" stroke="none"/>
<circle cx="578" cy="454.8" r="0.9" fill="#ff5511" stroke="none"/>
<rect x="617.1" y="449.1" width="6.6" height="6.6" fill="#4fab22" stroke="none"/>
<circle cx="620.4" cy="452.4" r="0.9" fill="#ff5511" stroke="none"/>
<rect x="659.0" y="454.3" width="6.6" height="6.6" fill="#4fab22" stroke="none"/>
<circle cx="662.3" cy="457.6" r="0.9" fill="#ff5511" stroke="none"/>
<rect x="700.1" y="454.7" width="6.6" height="6.6" fill="#4fab22" stroke="none"/>
<circle cx="703.4" cy="458" r="0.9" fill="#ff5511" stroke="none"/>
<path d="M126.9 507.6 L131.9 516.0 L121.9 516.0 Z" fill="#1fb2ee" stroke="none"/>
<circle cx="126.9" cy="513.2" r="0.9" fill="#55ad1f" stroke="none"/>
<path d="M175.5 507.2 L180.5 515.6 L170.5 515.6 Z" fill="#1fb2ee" stroke="none"/>
<circle cx="175.5" cy="512.8" r="0.9" fill="#55ad1f" stroke="none"/>
<path d="M224.1 507.6 L229.1 516.0 L219.1 516.0 Z" fill="#1fb2ee" stroke="none"/>
<circle cx="224.1" cy="513.2" r="0.9" fill="#55ad1f" stroke="none"/>
<path d="M275.8 507.6 L280.8 516.0 L270.8 516.0 Z" fill="#1fb2ee" stroke="none"/>
<circle cx="275.8" cy="513.2" r="0.9" fill="#55ad1f" stroke="none"/>
<path d="M330.5 507.6 L335.5 516.0 L325.5 516.0 Z" fill="#1fb2ee" stroke="none"/>
<circle cx="330.5" cy="513.2" r="0.9" fill="#55ad1f" stroke="none"/>
<path d="M381.4 508.4 L386.4 516.8 L376.4 516.8 Z" fill="#1fb2ee" stroke="none"/>
<circle cx="381.4" cy="514" r="0.9" fill="#55ad1f" stroke="none"/>
<path d="M431.7 508.3 L436.7 516.7 L426.7 516.7 Z" fill="#1fb2ee" stroke="none"/>
<circle cx="431.7" cy="513.9" r="0.9" fill="#55ad1f" stroke="none"/>
<path d="M483.2 508.3 L488.2 516.7 L478.2 516.7 Z" fill="#1fb2ee" stroke="none"/>
<circle cx="483.2" cy="513.9" r="0.9" fill="#55ad1f" stroke="none"/>
<path d="M533.4 509.1 L538.4 517.5 L528.4 517.5 Z" fill="#1fb2ee" stroke="none"/>
<circle cx="533.4" cy="514.7" r="0.9" fill="#55ad1f" stroke="none"/>
<path d="M579.2 509.9 L584.2 518.3 L574.2 518.3 Z" fill="#1fb2ee" stroke="none"/>
<circle cx="579.2" cy="515.5" r="0.9" fill="#55ad1f" stroke="none"/>
<path d="M621.5 513.9 L626.5 522.3 L616.5 522.3 Z" fill="#1fb2ee" stroke="none"/>
<circle cx="621.5" cy="519.5" r="0.9" fill="#55ad1f" stroke="none"/>
<path d="M663.1 513.1 L668.1 521.5 L658.1 521.5 Z" fill="#1fb2ee" stroke="none"/>
<circle cx="663.1" cy="518.7" r="0.9" fill="#55ad1f" stroke="none"/>
<path d="M703.4 513.1 L708.4 521.5 L698.4 521.5 Z" fill="#1fb2ee" stroke="none"/>
<circle cx="703.4" cy="518.7" r="0.9" fill="#55ad1f" stroke="none"/>
</g>
<path d="M123.6 325.8 H715.3 V600.4 H123.6 Z" fill="none" stroke="#555" stroke-width="1.1"/>
<path d="M123.6 575.5 h6 M715.3 575.5 h-6 M123.6 525.5 h6 M715.3 525.5 h-6 M123.6 475.6 h6 M715.3 475.6 h-6 M123.6 425.7 h6 M715.3 425.7 h-6 M123.6 375.7 h6 M715.3 375.7 h-6 M123.6 325.8 h6 M715.3 325.8 h-6 M159.1 600.4 v-6 M159.1 325.8 v6 M265.6 600.4 v-6 M265.6 325.8 v6 M372.1 600.4 v-6 M372.1 325.8 v6 M478.6 600.4 v-6 M478.6 325.8 v6 M585.1 600.4 v-6 M585.1 325.8 v6 M691.6 600.4 v-6 M691.6 325.8 v6" stroke="#555" stroke-width="1.1" fill="none"/>
<text x="118.3" y="581.2" text-anchor="end" style="font-family:'Liberation Sans',sans-serif;font-size:16px;font-weight:bold" fill="#262626">10</text>
<text x="118.3" y="531.3" text-anchor="end" style="font-family:'Liberation Sans',sans-serif;font-size:16px;font-weight:bold" fill="#262626">20</text>
<text x="118.3" y="481.4" text-anchor="end" style="font-family:'Liberation Sans',sans-serif;font-size:16px;font-weight:bold" fill="#262626">30</text>
<text x="118.3" y="431.5" text-anchor="end" style="font-family:'Liberation Sans',sans-serif;font-size:16px;font-weight:bold" fill="#262626">40</text>
<text x="118.3" y="381.5" text-anchor="end" style="font-family:'Liberation Sans',sans-serif;font-size:16px;font-weight:bold" fill="#262626">50</text>
<text x="118.3" y="331.6" text-anchor="end" style="font-family:'Liberation Sans',sans-serif;font-size:16px;font-weight:bold" fill="#262626">60</text>
<text x="159.1" y="623.3" text-anchor="middle" style="font-family:'Liberation Sans',sans-serif;font-size:16px;font-weight:bold" fill="#262626">1.4585</text>
<text x="265.6" y="623.3" text-anchor="middle" style="font-family:'Liberation Sans',sans-serif;font-size:16px;font-weight:bold" fill="#262626">1.459</text>
<text x="372.1" y="623.3" text-anchor="middle" style="font-family:'Liberation Sans',sans-serif;font-size:16px;font-weight:bold" fill="#262626">1.4595</text>
<text x="478.6" y="623.3" text-anchor="middle" style="font-family:'Liberation Sans',sans-serif;font-size:16px;font-weight:bold" fill="#262626">1.46</text>
<text x="585.1" y="623.3" text-anchor="middle" style="font-family:'Liberation Sans',sans-serif;font-size:16px;font-weight:bold" fill="#262626">1.4605</text>
<text x="691.6" y="623.3" text-anchor="middle" style="font-family:'Liberation Sans',sans-serif;font-size:16px;font-weight:bold" fill="#262626">1.461</text>
<text x="420" y="646.8" text-anchor="middle" style="font-family:'Liberation Sans',sans-serif;font-size:17.5px;font-weight:bold" fill="#333">Time(h)</text>
<text transform="translate(92,464.6) rotate(-90)" text-anchor="middle" style="font-family:'Liberation Sans',sans-serif;font-size:18px;font-weight:bold" fill="#3a3a3a">Voltage(mV)</text>
<rect x="535.3" y="308.8" width="170.9" height="115.8" fill="#fff" stroke="#333" stroke-width="1.1"/>
<line x1="538.2" y1="319.3" x2="565.5" y2="319.3" stroke="#1a72c4" stroke-width="2.2"/>
<text x="568.2" y="324.7" style="font-family:'Liberation Sans',sans-serif;font-size:15px;font-weight:bold" fill="#111" xml:space="preserve">Lead  DI</text>
<line x1="538.2" y1="338.5" x2="565.5" y2="338.5" stroke="#ff5511" stroke-width="2.2"/>
<text x="568.2" y="343.9" style="font-family:'Liberation Sans',sans-serif;font-size:15px;font-weight:bold" fill="#111" xml:space="preserve">Lead  aVF</text>
<line x1="538.2" y1="357.4" x2="565.5" y2="357.4" stroke="#55ad1f" stroke-width="2.2"/>
<text x="568.2" y="362.8" style="font-family:'Liberation Sans',sans-serif;font-size:15px;font-weight:bold" fill="#111" xml:space="preserve">Lead  V2</text>
<circle cx="552" cy="376.6" r="2.65" fill="none" stroke="#8b2a9a" stroke-width="2.7"/>
<text x="568.2" y="382.0" style="font-family:'Liberation Sans',sans-serif;font-size:15px;font-weight:bold" fill="#111" xml:space="preserve">QRS Detection DI</text>
<rect x="548.9" y="392.4" width="6.2" height="6.2" fill="#4fab22"/><circle cx="552" cy="395.5" r="0.7" fill="#fff"/>
<text x="568.2" y="400.9" style="font-family:'Liberation Sans',sans-serif;font-size:15px;font-weight:bold" fill="#111" xml:space="preserve">QRS detection aVF</text>
<path d="M552 409.40000000000003 L557.1 418.20000000000005 L546.9 418.20000000000005 Z" fill="#1fb2ee"/><circle cx="552" cy="415.6" r="0.7" fill="#fff"/>
<text x="568.2" y="420.0" style="font-family:'Liberation Sans',sans-serif;font-size:15px;font-weight:bold" fill="#111" xml:space="preserve">QRS detection V2</text>
<clipPath id="dclip"><rect x="132.2" y="688.2" width="578.6" height="295.2"/></clipPath>
<g clip-path="url(#dclip)"><path d="M133.2 852.9V879.2M135.1 854.8V885.2M136.8 854.9V866.2M139.3 838.9V886.6M140.9 847.0V868.3M143.1 840.3V868.8M145.1 839.6V871.2M147.2 850.8V873.9M149.4 848.2V858.7M151.3 846.2V864.3M153.1 840.5V869.1M155.3 844.0V877.4M157.7 831.7V866.5M160.5 843.3V879.1M162.4 835.2V867.9M164.8 824.1V872.7M166.4 828.1V861.7M168.5 835.3V876.3M170.7 836.5V866.9M173.4 825.6V873.7M176.0 835.4V867.4M177.6 838.6V873.6M180.1 826.9V877.9M182.6 831.5V868.5M184.6 826.4V858.7M187.4 826.1V857.3M189.6 831.9V865.4M192.0 835.6V868.9M194.2 837.8V863.1M196.6 829.1V878.4M198.4 829.5V861.3M200.9 827.6V876.1M203.2 840.9V862.1M205.4 827.9V860.1M207.1 828.4V876.2M208.8 830.5V876.5M211.1 830.4V878.7M213.6 829.4V878.5M216.1 836.8V875.7M218.6 835.2V875.3M221.3 831.2V880.4M223.3 834.8V877.7M225.3 836.5V868.6M227.8 836.0V863.3M230.4 829.3V882.2M232.8 826.1V881.4M234.9 835.4V884.9M237.1 830.8V874.2M239.2 826.4V876.0M241.2 836.9V885.1M242.8 825.2V887.7M244.6 837.1V875.8M246.4 836.3V879.5M248.4 826.3V889.5M250.2 828.2V875.9M252.2 830.1V887.4M254.6 827.1V877.7M256.8 833.6V888.6M259.2 823.7V888.0M261.2 823.7V890.1M263.2 838.5V883.6M265.2 828.1V883.0M266.9 837.6V889.9M269.6 838.0V890.4M271.8 834.4V872.7M274.4 826.7V882.8M276.4 830.0V885.9M279.0 824.9V885.2M281.1 835.7V874.6M283.8 831.6V883.2M286.2 824.0V880.6M288.1 830.9V888.7M290.3 836.7V888.2M292.1 840.6V883.5M293.9 839.9V879.4M296.1 842.8V868.3M297.8 833.4V869.5M300.5 830.4V871.5M302.3 831.0V878.4M304.0 838.8V880.3M306.0 835.1V888.1M308.4 827.6V886.1M310.7 834.2V886.2M313.2 825.3V875.0M315.3 831.2V887.7M317.2 835.7V894.6M319.9 822.1V876.8M322.5 824.3V889.0M325.0 819.4V886.9M327.2 821.5V889.2M329.1 817.1V886.5M331.0 818.6V888.7M333.4 824.8V872.9M335.3 830.2V882.0M338.0 830.2V883.0M339.7 826.0V871.8M342.3 831.5V881.7M344.9 824.5V885.6M346.7 828.8V887.0M349.1 827.9V881.3M351.0 833.1V873.3M353.4 831.2V884.1M355.8 836.0V878.3M357.5 827.6V892.8M359.3 827.8V875.8M361.9 837.0V891.8M364.7 837.2V874.1M366.4 831.5V887.2M369.1 838.6V869.6M371.1 833.1V877.0M373.7 831.3V872.1M376.1 832.7V882.5M378.3 837.0V875.1M380.2 838.3V867.1M382.3 828.2V861.1M384.1 826.5V878.5M386.8 836.9V860.2M388.5 830.9V864.9M391.1 832.1V860.6M393.7 839.6V880.0M395.5 827.3V863.5M398.1 829.3V859.8M399.9 840.5V873.7M402.4 841.8V867.2M404.8 838.2V879.3M406.8 847.2V867.7M408.8 844.7V881.6M410.9 849.1V869.4M413.1 843.6V878.7M415.4 836.5V876.5M417.7 839.1V874.0M419.6 831.8V880.8M421.8 836.6V885.6M424.5 830.2V877.9M426.6 833.7V880.5M428.4 841.5V888.7M430.5 840.1V881.3M433.2 841.5V882.0M435.7 843.5V884.6M438.5 836.7V877.3M441.1 839.0V883.7M443.6 852.9V882.5M445.9 846.1V886.0M447.6 855.6V880.7M449.6 849.7V884.1M452.4 850.6V884.6M454.8 862.3V871.5M457.1 850.2V866.7M458.9 847.5V875.5M461.6 851.4V868.7M463.3 851.7V865.4M465.1 839.9V879.6M467.5 849.2V876.9M469.4 852.8V865.3M472.0 851.5V875.2M474.5 847.0V880.9M476.4 841.9V874.3M478.9 838.0V871.7M480.5 844.7V875.3M483.0 849.7V878.7M485.7 839.6V891.5M488.1 849.9V883.1M490.6 840.5V875.8M492.9 844.4V896.6M495.1 847.5V889.3M497.4 837.9V885.8M499.6 857.4V887.2M502.4 860.5V885.8M504.0 853.0V879.8M506.0 865.3V880.3M507.8 862.0V885.0M510.5 853.4V881.1M512.5 851.9V889.0M515.2 843.7V893.9M517.1 846.2V882.0M518.9 849.0V891.8M521.3 840.6V875.6M523.8 846.6V873.7M526.2 842.5V885.0M528.0 841.7V879.0M529.6 841.6V881.0M531.4 851.1V874.6M533.4 844.2V872.6M535.7 850.7V871.2M537.7 844.7V885.8M539.7 839.1V873.6M542.4 843.7V883.2M544.7 851.4V880.4M546.4 836.7V874.4M548.2 849.8V884.4M550.2 840.0V867.9M552.9 846.4V870.8M555.0 840.5V884.8M557.2 852.7V868.5M559.9 843.3V877.1M561.7 841.3V885.5M563.6 848.4V885.2M566.0 844.4V889.5M568.4 840.8V892.7M570.7 852.4V879.5M572.5 848.4V886.5M574.6 846.7V894.3M576.7 845.9V886.9M579.1 859.6V885.8M581.0 858.7V878.7M582.9 846.1V870.0M585.1 842.2V886.7M587.8 842.0V881.4M590.3 835.8V875.0M592.2 835.0V890.1M594.8 836.5V885.7M597.4 849.8V889.8M600.2 841.8V893.3M602.0 852.5V896.3M603.8 849.8V888.3M605.4 836.8V892.1M608.1 845.9V880.7M610.1 835.4V880.0M611.9 834.8V882.1M613.9 847.9V885.9M615.6 841.3V882.6M618.4 847.2V884.9M620.9 844.7V874.1M623.1 837.3V876.3M625.1 834.0V887.9M627.9 840.9V883.8M630.5 840.9V875.4M633.2 844.6V878.5M635.9 837.2V886.9M637.7 844.8V895.4M639.8 839.1V896.9M642.6 843.3V888.6M645.1 851.8V891.3M647.5 844.1V877.1M650.2 847.9V896.6M652.4 834.8V875.2M654.8 832.4V890.7M656.4 843.6V872.1M658.9 839.9V880.4M660.6 832.3V890.0M662.5 837.6V882.7M664.3 845.0V881.2M666.6 837.4V877.5M668.3 835.1V881.8M670.1 839.6V881.3M672.7 843.5V890.1M674.5 841.3V888.1M676.7 850.5V880.0M679.3 845.8V894.3M681.9 843.8V877.9M684.5 847.9V876.2M686.8 837.3V877.0M688.6 845.8V892.1M691.1 845.7V879.5M692.9 847.0V879.3M695.4 842.3V876.6M697.8 846.6V874.4M700.4 856.1V870.3M702.8 856.3V879.1M704.9 858.8V872.5M706.6 855.6V875.3M708.5 859.8V872.2M135.5 720.75h0.01M133.75 721.25h0.01M137 720.5h0.01M133 728.25h0.01M136.25 728h0.01M140.5 727.5h0.01M144.5 726.25h0.01M136.25 732h0.01M140.5 737.5h0.01M138.75 739.5h0.01M144 738.75h0.01M135.5 755h0.01M137 765.5h0.01M137 775.5h0.01M169.5 693h0.01M174.5 696.25h0.01M168.75 701.75h0.01M175 701.75h0.01M168.75 708h0.01M172.5 708h0.01M174.5 708.75h0.01M164.5 718h0.01M166.75 722.5h0.01M173.75 722.5h0.01M175 731.75h0.01M170 745h0.01M250.5 719.5h0.01M253.25 728.75h0.01M272 729.5h0.01M277.5 735h0.01M265 739.5h0.01M263.75 756.75h0.01M263.75 765.5h0.01M277.5 755h0.01M291.75 704.5h0.01M291.75 713.75h0.01M294 725h0.01M294 730h0.01M293.75 740.5h0.01M292 752.5h0.01M306.25 744.25h0.01M301.5 748.25h0.01M308.25 755.5h0.01M306.25 758.75h0.01M307 762h0.01M300 765h0.01M308.25 768.75h0.01M307 777.5h0.01M317.5 750.5h0.01M318 757.5h0.01M320.5 761.25h0.01M321.25 777h0.01M322.5 702.5h0.01M322.5 708.75h0.01M322.5 724.5h0.01M322.5 738.25h0.01M332.5 694.25h0.01M376.5 691.25h0.01M377.5 695.5h0.01M392.5 689.25h0.01M419 696.25h0.01M446.25 695.5h0.01M485 693.75h0.01M502.5 691.25h0.01M327 708h0.01M347 705h0.01M347 708.75h0.01M358.75 712.5h0.01M357 717h0.01M365 717h0.01M359 722h0.01M364 723.75h0.01M399.5 708.75h0.01M399.5 710.5h0.01M407.5 714.5h0.01M409 721.25h0.01M405 725.75h0.01M426.5 719.25h0.01M445.25 709.25h0.01M494.5 704.25h0.01M509.5 703.25h0.01M485 709.25h0.01M488.75 709.25h0.01M477.5 714.5h0.01M483.75 717.5h0.01M472 718h0.01M477.5 718h0.01M483.25 722.5h0.01M478.25 725.5h0.01M462.75 724.25h0.01M465.75 725.75h0.01M327 724.5h0.01M332 727.5h0.01M338.25 722.5h0.01M337.5 723.75h0.01M352.5 727.5h0.01M337 734.25h0.01M323.25 738h0.01M375.75 733.75h0.01M379.5 734.5h0.01M365 734.5h0.01M365 745.75h0.01M389.5 722.5h0.01M392 720.5h0.01M390.75 727.5h0.01M393.25 730h0.01M392.5 726.25h0.01M389 743h0.01M393.25 745.75h0.01M400.25 743h0.01M394.5 754.25h0.01M407 754.25h0.01M416.25 736.25h0.01M416.25 738h0.01M415.75 743.75h0.01M419 746.25h0.01M415.75 748.75h0.01M417 753.75h0.01M418.25 756.25h0.01M418.75 760h0.01M416.5 766.25h0.01M417.75 770h0.01M418.75 773.75h0.01M419.5 775h0.01M413.75 781.25h0.01M399 775h0.01M434.5 740.5h0.01M439.5 738h0.01M443.25 738h0.01M446.5 743.75h0.01M443.25 751.25h0.01M436.5 774.5h0.01M458.75 733.25h0.01M462.75 731.25h0.01M465.75 736.75h0.01M468.25 733.75h0.01M462.5 746.25h0.01M469.5 744.25h0.01M492.5 730h0.01M486.5 743h0.01M487.5 745.5h0.01M487.5 751.25h0.01M509.5 740h0.01M514 739.25h0.01M462.5 755h0.01M454.5 756.75h0.01M457 757.5h0.01M454 760h0.01M457 766.25h0.01M452 772h0.01M457.75 775.5h0.01M473.25 770.75h0.01M498.75 757.5h0.01M497 763.25h0.01M340.75 758.75h0.01M342 765.5h0.01M515.25 739.25h0.01M524.5 720.5h0.01M529 747h0.01M543.5 732.5h0.01M542.75 734.25h0.01M550.25 728h0.01M551 730h0.01M542.75 741.25h0.01M542.25 745.75h0.01M550.75 741.75h0.01M542.75 759.5h0.01M581 719.25h0.01M582.75 738.75h0.01M582 741.25h0.01M581.5 745h0.01M583.5 747.5h0.01M584.75 751.25h0.01M581.5 756.25h0.01M582.75 755.5h0.01M575.25 746.25h0.01M575.25 755h0.01M574.75 758.75h0.01M568.25 763.25h0.01M572.25 768.25h0.01M580.25 775h0.01M578.25 799.25h0.01M614.5 715.5h0.01M612.75 729.25h0.01M606.5 731.25h0.01M601 736.25h0.01M615.25 735h0.01M617.75 741.25h0.01M604.75 744.5h0.01M605.25 750h0.01M606 771.25h0.01M606 774.25h0.01M606 788.75h0.01M633.5 736.25h0.01M635.25 741.25h0.01M649 726.25h0.01M646.5 732h0.01M646.5 736.25h0.01M646.5 747h0.01M663.25 724.25h0.01M663.25 731.75h0.01M662 755h0.01M662.25 760.75h0.01M660.25 775.75h0.01M683.5 689.25h0.01M679.5 712.5h0.01M692 717h0.01M679.5 723h0.01M680.25 727h0.01M689 734.5h0.01M691.5 734.25h0.01M681 750.5h0.01M684.5 758.25h0.01M689 757.5h0.01M693.5 747.5h0.01M696 751.25h0.01M699 749.25h0.01M699 758.25h0.01M702 758.25h0.01M707.75 731.25h0.01M707.75 755h0.01M708.5 757.5h0.01M705.25 767h0.01M684 788.75h0.01M678.5 802h0.01M709 706.75h0.01M709 795h0.01M134.5 892h0.01M132.5 900.75h0.01M134.5 912h0.01M136.25 910.5h0.01M142.5 909.25h0.01M145.5 911.25h0.01M136.25 920h0.01M139.5 920h0.01M154.25 918.25h0.01M133.75 942h0.01M133.75 946.25h0.01M136.25 946.75h0.01M153 938.75h0.01M169.25 890.75h0.01M175.5 890.75h0.01M205.5 945h0.01M224 964.25h0.01M240 924.5h0.01M255.75 934.5h0.01M265.25 902.5h0.01M277.75 904.25h0.01M300.25 900.5h0.01M315 900.75h0.01M309.25 931.25h0.01M301.75 940.5h0.01M301.75 944.25h0.01M292.25 961.75h0.01M343.25 898.75h0.01M342 923.75h0.01M338.25 931.75h0.01M365 931.75h0.01M333.25 966.25h0.01M392.75 894.5h0.01M405.25 888.25h0.01M400.75 908h0.01M397.75 910.5h0.01M400.75 916.25h0.01M399 943.25h0.01M419.5 955.5h0.01M426.5 910.5h0.01M432 897.5h0.01M442.5 920h0.01M443 925.75h0.01M445.75 934.25h0.01M446 941.25h0.01M456.25 950.5h0.01M454 957.5h0.01M457.5 958.75h0.01M466.5 958.25h0.01M466.25 945h0.01M466.25 937h0.01M468.25 931.25h0.01M472 928h0.01M470.75 913.75h0.01M470.75 904.25h0.01M475 900.5h0.01M478.25 901.25h0.01M485.25 892.5h0.01M487.5 923.25h0.01M496.25 913.25h0.01M499.5 917h0.01M502.5 919.25h0.01M497.75 948.75h0.01M505 942.5h0.01M505 962h0.01M517 915h0.01M517 937.5h0.01M517.75 913.75h0.01M517.75 916.25h0.01M589 909.25h0.01M597.75 904.5h0.01M577.75 932h0.01M572.75 946.25h0.01M581 944.5h0.01M577.25 960.5h0.01M601 951.25h0.01M617.25 916.25h0.01M631.5 929.5h0.01M642 923.75h0.01M651.5 898.75h0.01M660.5 932.5h0.01M681.5 912h0.01M690.25 917h0.01M686.5 923.25h0.01M706 936.25h0.01M700.75 949.25h0.01M694 953.25h0.01M697.25 965h0.01M709.5 905h0.01" stroke="#ff0000" stroke-width="4.4" stroke-linecap="round" fill="none"/></g>
<path d="M132.2 688.2 H710.8 V983.4 H132.2 Z" fill="none" stroke="#555" stroke-width="1.1"/>
<path d="M132.2 983.4 h6 M710.8 983.4 h-6 M132.2 909.6 h6 M710.8 909.6 h-6 M132.2 835.8 h6 M710.8 835.8 h-6 M132.2 762.0 h6 M710.8 762.0 h-6 M132.2 688.2 h6 M710.8 688.2 h-6 M132.2 983.4 v-6 M132.2 688.2 v6 M214.7 983.4 v-6 M214.7 688.2 v6 M297.2 983.4 v-6 M297.2 688.2 v6 M379.7 983.4 v-6 M379.7 688.2 v6 M462.2 983.4 v-6 M462.2 688.2 v6 M544.7 983.4 v-6 M544.7 688.2 v6 M627.2 983.4 v-6 M627.2 688.2 v6 M709.7 983.4 v-6 M709.7 688.2 v6" stroke="#555" stroke-width="1.1" fill="none"/>
<text x="127.6" y="989.0" text-anchor="end" style="font-family:'Liberation Sans',sans-serif;font-size:14px;font-weight:bold" fill="#222">0</text>
<text x="127.6" y="915.2" text-anchor="end" style="font-family:'Liberation Sans',sans-serif;font-size:14px;font-weight:bold" fill="#222">500</text>
<text x="127.6" y="841.4" text-anchor="end" style="font-family:'Liberation Sans',sans-serif;font-size:14px;font-weight:bold" fill="#222">1000</text>
<text x="127.6" y="767.6" text-anchor="end" style="font-family:'Liberation Sans',sans-serif;font-size:14px;font-weight:bold" fill="#222">1500</text>
<text x="127.6" y="693.8" text-anchor="end" style="font-family:'Liberation Sans',sans-serif;font-size:14px;font-weight:bold" fill="#222">2000</text>
<text x="132.2" y="1003.2" text-anchor="middle" style="font-family:'Liberation Sans',sans-serif;font-size:14px;font-weight:bold" fill="#222">0</text>
<text x="214.7" y="1003.2" text-anchor="middle" style="font-family:'Liberation Sans',sans-serif;font-size:14px;font-weight:bold" fill="#222">1</text>
<text x="297.2" y="1003.2" text-anchor="middle" style="font-family:'Liberation Sans',sans-serif;font-size:14px;font-weight:bold" fill="#222">2</text>
<text x="379.7" y="1003.2" text-anchor="middle" style="font-family:'Liberation Sans',sans-serif;font-size:14px;font-weight:bold" fill="#222">3</text>
<text x="462.2" y="1003.2" text-anchor="middle" style="font-family:'Liberation Sans',sans-serif;font-size:14px;font-weight:bold" fill="#222">4</text>
<text x="544.7" y="1003.2" text-anchor="middle" style="font-family:'Liberation Sans',sans-serif;font-size:14px;font-weight:bold" fill="#222">5</text>
<text x="627.2" y="1003.2" text-anchor="middle" style="font-family:'Liberation Sans',sans-serif;font-size:14px;font-weight:bold" fill="#222">6</text>
<text x="709.7" y="1003.2" text-anchor="middle" style="font-family:'Liberation Sans',sans-serif;font-size:14px;font-weight:bold" fill="#222">7</text>
<text x="422.2" y="1022.3" text-anchor="middle" style="font-family:'Liberation Sans',sans-serif;font-size:14.7px;font-weight:bold" fill="#3a3a3a">Time(h)</text>
<text transform="translate(91.3,835.5) rotate(-90)" text-anchor="middle" style="font-family:'Liberation Sans',sans-serif;font-size:16px;font-weight:bold" fill="#3a3a3a">RR interval(ms)</text>
<rect x="569.6" y="694.9" width="135.4" height="18.7" fill="#fff" stroke="#333" stroke-width="1"/>
<circle cx="583.6" cy="703.6" r="2.2" fill="#ff0000"/>
<text x="597.5" y="709.1" style="font-family:'Liberation Sans',sans-serif;font-size:12.6px;font-weight:bold" fill="#111">QRS detection V2</text>
<text x="103" y="298.5" text-anchor="middle" style="font-family:'Liberation Serif',serif;font-size:21px" fill="#111">(<tspan style="font-weight:bold">a</tspan>)</text>
<text x="512.4" y="298.5" text-anchor="middle" style="font-family:'Liberation Serif',serif;font-size:21px" fill="#111">(<tspan style="font-weight:bold">b</tspan>)</text>
<text x="396" y="673.5" text-anchor="middle" style="font-family:'Liberation Serif',serif;font-size:21px" fill="#111">(<tspan style="font-weight:bold">c</tspan>)</text>
<text x="396" y="1049" text-anchor="middle" style="font-family:'Liberation Serif',serif;font-size:21px" fill="#111">(<tspan style="font-weight:bold">d</tspan>)</text>
</svg>
</body></html>
